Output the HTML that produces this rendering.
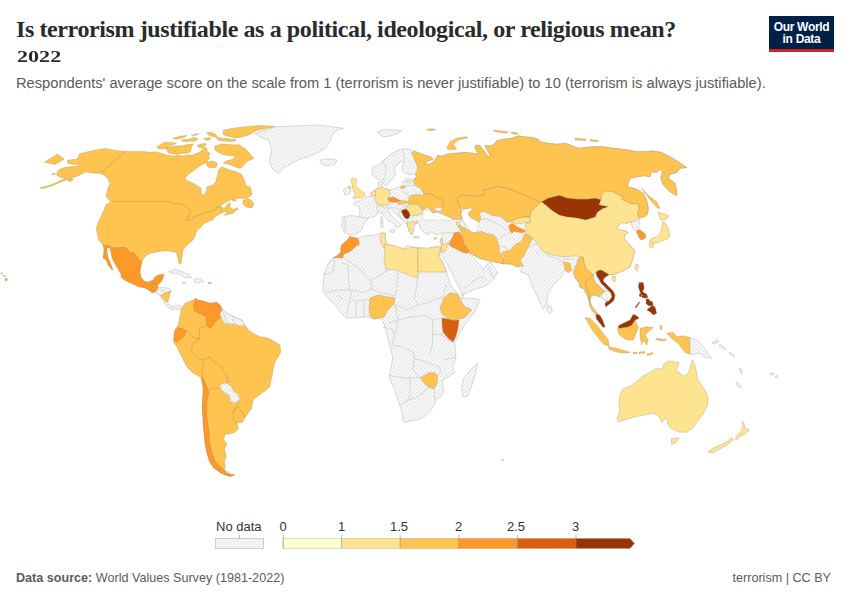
<!DOCTYPE html>
<html><head><meta charset="utf-8">
<style>
html,body{margin:0;padding:0;background:#fff;}
body{width:850px;height:600px;position:relative;overflow:hidden;font-family:"Liberation Sans",sans-serif;}
.t{position:absolute;white-space:nowrap;}
#title{left:16px;top:15.6px;font-family:"Liberation Serif",serif;font-weight:bold;font-size:24px;color:#2b2b2b;letter-spacing:-0.4px;}
#year{left:16.5px;top:46.5px;font-family:"Liberation Serif",serif;font-weight:bold;font-size:17px;color:#2b2b2b;transform-origin:0 0;transform:scaleX(1.3);}
#sub{left:16px;top:74.5px;font-size:14.7px;color:#5b5b5b;}
#logo{position:absolute;left:769px;top:16px;width:65px;height:36px;background:#002147;}
#logo .bar{position:absolute;left:0;bottom:0;width:65px;height:3px;background:#ce261e;}
#logo .lt{position:absolute;left:0;width:65px;text-align:center;color:#fff;font-weight:bold;font-size:12px;letter-spacing:-0.3px;}
#map{position:absolute;left:0;top:0;}
.nd{fill:url(#hatch);stroke:#c8c8c8;stroke-width:0.7;}
.cc{stroke:#7a6a55;stroke-width:0.35;stroke-opacity:0.7;}
.wt{fill:#fff;stroke:#c6c6c6;stroke-width:0.5;}
.nb{fill:none;stroke:#cccccc;stroke-width:0.7;}
.bl{fill:none;stroke:#7a6a55;stroke-width:0.4;stroke-opacity:0.7;}
.lg{position:absolute;font-size:13px;color:#333;}
#src{left:16px;top:570.5px;font-size:12.6px;color:#5b5b5b;}
#lic{left:732.5px;top:570.5px;font-size:12.6px;color:#5b5b5b;}
</style></head><body>
<div class="t" id="title">Is terrorism justifiable as a political, ideological, or religious mean?</div>
<div class="t" id="year">2022</div>
<div class="t" id="sub">Respondents' average score on the scale from 1 (terrorism is never justifiable) to 10 (terrorism is always justifiable).</div>
<div id="logo"><div class="lt" style="top:4px">Our World</div><div class="lt" style="top:15.8px">in Data</div><div class="bar"></div></div>
<svg id="map" width="850" height="600" viewBox="0 0 850 600">
<defs><pattern id="hatch" patternUnits="userSpaceOnUse" width="2.83" height="2.83" patternTransform="rotate(45)"><rect width="2.83" height="2.83" fill="#fff"/><line x1="0.6" y1="0" x2="0.6" y2="2.83" stroke="#e5e5e5" stroke-width="1.6"/></pattern></defs>
<polygon fill="#fec44f" class="cc" points="40.5,187.7 50.5,185.1 65.8,178.2 61.2,177.5 57.4,175.9 56.6,172.9 58.9,169.8 64.2,167.5 71.9,166.5 77.0,166.2 79.0,165.2 77.2,164.5 72.0,164.2 67.3,162.9 67.5,160.2 76.5,159.1 79.5,156.1 78.8,154.1 85.7,152.2 97.9,149.5 105.5,148.4 116.2,150.4 125.4,151.5 142.9,151.4 150.0,152.3 155.6,151.8 161.3,153.2 166.0,155.1 173.5,156.1 178.2,155.1 182.9,156.1 187.6,155.1 192.4,155.1 197.1,153.2 199.9,152.3 203.6,148.5 206.5,147.6 207.4,151.4 210.2,153.2 208.4,156.1 209.7,157.8 206.6,162.4 200.5,165.4 194.4,170.0 188.2,174.6 185.2,178.0 186.3,180.4 191.7,182.5 197.1,185.8 200.9,187.9 201.4,193.4 203.6,195.5 206.3,191.2 206.9,186.9 211.2,185.8 215.5,182.5 216.6,178.2 217.7,173.8 218.8,169.5 221.9,167.0 229.5,170.0 235.7,171.5 241.8,174.6 243.3,178.0 244.8,181.4 245.9,185.8 250.0,187.0 251.0,189.1 252.0,194.4 246.7,198.7 240.0,198.0 231.5,199.4 225.9,202.2 221.2,205.1 216.5,207.4 221.2,206.5 222.1,208.8 224.0,208.8 227.8,204.1 230.6,202.2 229.6,206.9 233.4,209.8 237.2,207.4 238.1,208.8 232.5,213.5 225.9,214.9 224.0,215.4 227.8,211.6 224.0,212.1 220.2,213.5 216.5,215.9 213.6,218.2 212.7,220.1 207.1,222.0 203.3,223.9 200.5,227.6 197.6,229.5 196.2,232.4 194.8,237.1 192.9,240.0 188.5,244.0 183.2,249.3 182.1,255.6 181.1,264.1 178.9,263.1 176.8,253.5 175.0,252.0 169.0,251.0 163.0,251.0 157.0,252.0 151.0,253.0 147.0,255.0 143.0,259.0 142.0,262.0 139.0,260.0 136.0,255.0 133.0,252.0 130.0,253.0 128.0,250.0 125.0,247.5 121.0,247.5 112.0,248.0 110.0,246.0 103.0,245.0 98.5,239.8 96.4,229.2 97.4,223.9 102.7,213.3 105.9,204.8 111.2,201.6 108.0,199.0 106.0,196.0 108.0,188.0 110.0,184.0 108.0,179.0 104.0,175.0 101.0,173.5 92.0,172.9 85.7,172.1 78.0,175.9 65.8,180.1 50.5,186.5 41.0,188.8"/>
<polygon fill="#fec44f" class="cc" points="214.2,146.3 221.9,144.0 231.1,144.8 238.7,144.8 244.8,148.6 247.9,151.6 254.0,158.5 247.9,160.8 244.8,163.9 240.2,168.5 235.7,167.0 228.0,163.9 223.4,163.1 226.5,160.8 232.6,159.3 235.7,156.2 229.5,155.5 223.4,154.7 218.8,152.4 215.0,150.1"/>
<polygon fill="#fec44f" class="cc" points="223.4,130.2 234.1,128.0 247.9,126.4 260.1,125.6 275.4,126.4 269.3,127.9 257.1,130.2 249.4,134.8 241.8,137.1 235.7,137.9 229.5,136.4 223.4,134.8"/>
<polygon fill="#fec44f" class="cc" points="206.5,132.5 212.1,132.5 215.9,134.4 217.8,137.2 221.5,138.2 227.2,138.6 230.0,139.1 235.7,139.4 235.7,140.9 230.0,141.5 221.5,141.0 217.8,140.1 215.9,137.2 209.3,135.4"/>
<polygon fill="#fec44f" class="cc" points="156.6,147.1 164.1,142.4 173.5,142.4 176.4,143.8 168.8,145.7 166.9,148.5 159.4,149.0"/>
<polygon fill="#fec44f" class="cc" points="166.0,147.6 173.5,146.2 181.1,145.7 189.5,144.3 193.3,143.8 191.4,147.6 190.5,151.4 187.6,153.2 182.0,153.2 176.4,154.2 168.8,153.2 166.9,150.4"/>
<polygon fill="#fec44f" class="cc" points="173.1,138.2 180.1,136.3 186.7,135.4 184.8,137.2 178.2,139.1 173.5,139.1"/>
<polygon fill="#fec44f" class="cc" points="181.1,140.1 189.5,139.1 194.2,137.2 198.0,139.1 195.2,141.0 187.6,141.5 182.9,141.5"/>
<polygon fill="#fec44f" class="cc" points="191.4,134.9 198.9,133.5 197.1,134.9 193.0,135.6"/>
<polygon fill="#fec44f" class="cc" points="197.1,145.2 202.7,143.4 206.5,143.8 203.6,148.1 198.9,147.6"/>
<polygon fill="#fec44f" class="cc" points="203.6,138.6 210.2,137.2 211.2,139.1 206.5,140.5"/>
<polygon fill="#fec44f" class="cc" points="206.6,162.4 212.0,161.0 217.3,163.0 216.0,167.5 210.0,168.0 207.0,166.0"/>
<polygon fill="#fec44f" class="cc" points="232.5,199.4 236.2,199.8 235.5,201.3 232.5,200.8"/>
<polygon fill="#fec44f" class="cc" points="243.0,200.0 250.0,199.0 254.0,204.0 252.0,208.0 246.0,207.0 243.0,204.0"/>
<polygon fill="#fec44f" class="cc" points="44.4,162.2 57.4,154.1 64.2,159.1 55.1,164.5"/>
<polygon fill="#fec44f" class="cc" points="52.0,173.4 55.0,173.2 55.3,174.5 52.3,174.8"/>
<polygon fill="#fec44f" class="cc" points="67.5,180.0 71.0,178.8 73.4,179.5 70.0,182.0"/>
<polygon fill="#fe9929" class="cc" points="103.0,245.0 110.0,246.0 112.0,248.0 121.0,247.5 125.0,247.5 128.0,250.0 130.0,253.0 133.0,252.0 136.0,255.0 139.0,260.0 142.0,262.0 141.0,266.0 140.0,272.0 141.0,277.0 144.0,281.0 148.0,282.0 153.0,280.0 155.0,277.0 158.0,275.0 164.0,274.0 163.0,278.0 161.0,282.0 159.0,284.0 158.0,284.0 156.0,283.0 155.0,284.0 151.0,284.0 152.0,286.0 153.0,287.0 151.0,288.0 150.0,291.0 145.0,288.0 139.0,287.0 133.0,284.0 128.0,282.0 123.0,279.0 121.0,277.0 121.0,274.0 118.0,269.0 115.0,264.0 112.0,258.0 111.0,253.0 110.0,248.0 107.0,248.0 107.0,252.0 108.0,257.0 110.0,262.0 112.0,267.0 113.0,270.0 111.0,269.0 108.0,265.0 106.0,260.0 103.0,258.0 104.0,250.0"/>
<polygon fill="#fe9929" class="cc" points="151.0,284.0 155.0,284.0 156.0,283.0 158.0,284.0 158.0,289.0 155.0,292.0 152.0,293.0 150.0,291.0 151.0,288.0 153.0,287.0 152.0,286.0"/>
<polygon class="nd" points="157.6,289.4 158.2,288.2 160.0,287.5 166.0,287.8 170.6,289.5 170.6,291.2 160.6,295.3 157.6,294.5 155.3,292.9"/>
<polygon fill="#fec44f" class="cc" points="160.6,295.3 170.6,291.2 168.8,298.8 167.6,302.4 164.1,300.6 161.2,297.6"/>
<polygon class="nd" points="164.1,300.6 167.6,302.4 170.0,305.0 173.0,307.0 176.0,305.5 179.0,305.0 181.7,307.5 181.0,309.5 178.0,310.0 176.0,308.5 173.0,310.0 170.0,309.0 167.0,306.0 164.5,303.0"/>
<polygon class="nd" points="168.8,271.8 175.3,269.4 182.4,271.8 189.4,275.3 191.8,277.6 184.7,277.6 178.8,274.1 171.8,272.9"/>
<polygon class="nd" points="194.1,278.8 201.2,278.8 204.1,281.8 197.6,282.9 194.1,281.8"/>
<polygon class="nd" points="182.5,282.0 185.5,282.0 185.5,283.5 182.5,283.3"/>
<polygon fill="#fec44f" class="cc" points="208.0,282.2 211.2,282.4 211.2,283.4 208.0,283.3"/>
<polygon fill="#fec44f" class="cc" points="181.7,308.3 185.0,303.3 193.3,300.0 195.8,298.3 197.5,300.0 201.7,300.8 210.0,303.3 216.7,302.5 220.0,305.0 222.5,310.0 230.0,315.0 241.7,320.0 245.0,325.0 248.3,330.0 253.3,333.3 260.0,336.7 268.3,338.3 275.0,341.7 280.0,345.0 280.8,351.7 278.3,356.7 275.0,361.7 273.3,368.3 272.0,376.7 271.6,377.3 269.8,386.5 266.1,390.2 258.8,395.6 253.3,399.3 251.5,408.5 245.0,417.6 242.3,422.2 236.8,423.1 238.6,428.6 235.0,432.3 228.6,434.1 225.3,434.3 223.5,439.8 227.1,443.5 224.4,449.0 226.2,456.3 224.4,461.8 225.3,467.4 224.4,470.1 231.7,474.7 234.5,474.7 229.9,476.5 220.7,472.9 213.4,467.4 209.7,461.8 206.9,452.7 205.1,443.5 203.3,425.1 202.3,406.7 203.3,388.4 201.4,378.3 200.0,376.7 193.3,373.3 186.7,366.7 181.7,356.7 176.7,346.7 173.3,341.7 174.2,335.0 175.8,328.3 178.3,325.0 180.0,316.7"/>
<polygon fill="#fe9929" class="cc" points="195.8,298.3 197.5,300.0 201.7,300.8 210.0,303.3 216.7,302.5 220.0,305.0 222.4,309.4 220.0,314.1 221.2,317.6 215.3,321.2 212.9,325.9 209.4,328.2 206.5,325.3 205.9,316.5 201.2,314.1 194.1,310.6 193.5,304.7"/>
<polygon class="nd" points="222.4,309.4 230.0,315.0 241.7,320.0 245.0,325.0 241.0,326.0 235.0,324.0 229.0,324.0 224.0,323.0 221.2,317.6 220.0,314.1"/>
<polygon fill="#fe9929" class="cc" points="175.0,330.0 179.2,327.5 186.7,330.8 184.2,335.8 180.0,340.0 176.7,342.5 174.2,340.0 174.2,333.3"/>
<polygon fill="#fe9929" class="cc" points="201.4,378.3 203.3,378.3 208.8,392.0 206.9,401.2 206.9,415.9 208.8,430.6 209.7,443.5 211.5,450.8 214.3,460.0 218.9,465.5 224.4,470.1 226.2,473.8 231.7,474.7 234.5,474.7 229.9,476.5 220.7,472.9 213.4,467.4 209.7,461.8 206.9,452.7 205.1,443.5 203.3,425.1 202.3,406.7 203.3,388.4"/>
<polygon class="nd" points="220.3,384.7 225.8,382.8 231.3,386.5 233.1,391.1 238.6,394.7 239.5,400.2 235.0,403.0 230.4,401.1 229.5,395.6 224.0,392.0 220.3,388.3"/>
<polygon class="nd" points="371.8,169.8 372.5,167.5 377.0,165.3 382.3,161.5 387.5,157.0 392.0,153.3 397.3,150.6 402.5,149.1 407.8,148.8 411.5,149.9 413.8,151.0 421.9,154.1 431.8,157.6 433.2,159.1 427.5,161.2 424.7,164.0 430.4,164.0 436.0,158.4 437.4,155.5 441.7,156.2 447.3,154.1 452.9,153.4 465.0,152.5 473.3,153.3 478.3,154.2 475.0,147.5 475.8,145.0 480.0,145.8 483.3,150.0 488.3,156.7 490.0,155.0 486.7,149.2 485.0,145.8 491.7,145.8 495.0,143.3 496.7,140.8 503.3,139.2 511.7,138.3 518.3,135.8 523.3,136.7 531.7,137.5 538.3,139.2 540.0,141.7 548.3,143.3 556.7,144.2 565.0,143.3 570.0,145.0 578.3,148.3 591.7,146.7 603.3,146.7 613.3,148.3 628.3,150.0 636.7,151.7 646.7,151.7 651.7,150.8 661.7,152.5 670.0,156.7 678.3,161.7 686.7,167.5 680.0,168.3 676.7,172.5 670.0,174.2 668.3,178.3 675.0,183.3 676.7,190.0 676.7,195.8 670.0,191.7 663.3,185.0 660.8,178.3 662.5,171.7 660.0,169.2 656.7,172.5 651.7,171.7 650.0,176.7 643.3,175.8 630.0,178.3 627.5,186.7 636.7,189.2 643.3,193.3 646.7,200.0 648.3,208.3 647.5,214.2 645.0,216.7 640.8,217.5 639.6,220.0 639.2,224.2 638.3,229.2 642.5,231.7 645.0,234.2 645.8,237.5 643.3,239.2 640.8,239.6 639.2,237.5 638.3,235.0 636.7,232.5 636.7,230.8 634.2,230.0 632.5,227.5 631.7,225.0 630.8,221.5 626.7,223.3 622.5,222.5 618.3,225.0 616.7,228.3 620.0,230.0 625.0,230.8 628.3,232.5 625.0,235.0 624.2,238.3 626.7,241.7 630.0,245.0 632.5,248.3 634.8,250.9 632.9,258.5 630.0,267.0 625.0,270.0 620.0,272.0 615.0,274.0 612.0,275.0 609.0,274.5 607.0,276.0 604.0,278.0 603.0,281.0 606.0,284.0 610.0,288.0 613.0,291.0 615.0,295.0 614.0,300.0 611.0,303.0 608.0,305.0 606.0,307.0 605.0,304.0 606.0,302.0 609.0,301.0 605.0,300.0 602.0,298.0 599.0,297.0 596.0,295.0 593.0,295.0 591.0,296.0 590.0,300.0 591.0,305.0 594.0,309.0 597.0,313.0 600.0,315.5 602.5,320.0 605.0,326.7 603.3,327.5 600.0,323.3 596.7,319.2 595.0,315.0 592.0,311.0 590.0,306.0 589.0,301.0 588.0,297.0 586.0,293.0 584.0,289.0 580.0,287.0 579.0,283.0 576.0,279.0 574.0,275.0 573.3,271.7 571.7,270.0 568.3,272.5 565.0,270.0 563.3,273.3 560.0,278.3 553.3,285.0 548.3,293.3 546.7,303.3 543.3,309.2 541.7,306.7 536.7,295.0 531.7,285.0 528.3,275.0 520.0,271.7 523.3,265.8 516.7,266.7 511.7,264.2 504.0,264.0 498.0,262.7 491.3,261.3 486.0,260.0 480.7,258.7 475.3,256.0 470.0,253.3 470.0,254.7 474.0,258.7 479.3,264.0 483.3,269.3 487.3,264.0 490.0,261.3 492.7,265.3 496.7,270.7 498.0,272.0 494.0,278.7 488.7,284.0 483.3,286.7 475.3,289.3 468.7,292.0 463.3,294.7 462.5,296.3 461.4,294.2 460.3,289.8 458.2,285.5 454.9,280.1 451.7,272.5 448.4,266.0 444.1,258.4 440.8,254.1 441.2,250.0 441.5,246.5 441.0,239.0 442.5,234.0 441.7,233.1 436.0,234.8 431.8,231.7 427.6,234.8 424.7,233.1 420.5,228.9 419.1,223.2 418.1,222.6 414.8,224.6 413.9,230.5 411.8,234.8 409.2,231.7 407.8,227.5 406.4,223.2 404.5,222.8 402.3,219.8 400.0,217.5 396.3,214.5 392.5,210.8 389.5,207.8 388.0,209.0 389.5,213.0 391.8,216.0 394.8,219.0 397.8,221.3 400.0,223.5 401.5,225.0 400.0,226.5 397.5,227.0 396.3,228.5 394.8,225.0 391.0,221.3 389.2,221.7 385.0,216.7 381.7,213.3 378.3,212.5 377.5,214.2 374.2,216.7 370.8,217.5 368.3,218.3 365.8,221.7 363.3,225.0 362.5,228.3 360.0,231.7 355.8,234.2 351.7,235.0 347.5,234.2 345.0,232.5 342.5,229.2 341.7,225.0 342.9,221.7 342.1,217.5 347.5,215.8 353.3,215.8 359.2,216.7 360.0,210.8 359.2,206.7 353.3,204.2 355.0,201.7 359.2,200.8 363.3,199.2 366.7,196.7 369.5,196.5 371.8,195.8 370.4,193.6 373.9,190.8 375.3,189.4 378.5,188.5 381.5,188.3 385.2,188.7 389.4,190.1 395.0,188.5 400.7,186.6 402.5,184.0 403.0,181.0 408.0,180.3 413.0,180.3 416.8,176.0 413.0,174.3 408.5,174.3 405.5,173.5 402.5,170.5 401.8,167.5 403.3,164.5 404.0,162.6 402.5,161.5 400.3,162.3 398.0,163.8 395.0,167.5 394.3,170.5 395.8,172.8 395.0,175.0 392.8,179.5 389.8,181.0 387.5,184.8 385.3,185.5 383.5,183.5 382.5,180.5 379.3,179.5 375.5,178.0 372.5,175.0"/>
<polygon class="wt" points="422.4,215.7 422.9,212.5 424.5,209.9 428.0,210.5 430.8,211.0 432.9,212.5 437.2,212.5 443.5,214.6 448.8,216.8 454.1,219.4 449.0,220.0 439.3,219.9 428.7,220.0 422.4,219.9"/>
<polygon class="wt" points="461.6,211.5 465.0,209.0 470.7,207.8 472.4,209.8 469.1,212.3 468.2,214.8 471.5,218.1 476.5,220.5 478.9,222.2 478.1,226.3 477.3,229.6 475.7,232.9 471.5,232.1 468.2,228.8 465.8,225.5 463.3,221.4 460.8,214.8"/>
<polygon class="nd" points="378.5,182.0 381.0,181.5 382.5,183.5 382.0,186.5 381.5,188.3 378.8,188.3 378.5,185.0"/>
<polygon fill="#fec44f" class="cc" points="413.8,151.0 421.9,154.1 431.8,157.6 433.2,159.1 427.5,161.2 424.7,164.0 430.4,164.0 436.0,158.4 437.4,155.5 441.7,156.2 447.3,154.1 452.9,153.4 465.0,152.5 473.3,153.3 478.3,154.2 475.0,147.5 475.8,145.0 480.0,145.8 483.3,150.0 488.3,156.7 490.0,155.0 486.7,149.2 485.0,145.8 491.7,145.8 495.0,143.3 496.7,140.8 503.3,139.2 511.7,138.3 518.3,135.8 523.3,136.7 531.7,137.5 538.3,139.2 540.0,141.7 548.3,143.3 556.7,144.2 565.0,143.3 570.0,145.0 578.3,148.3 591.7,146.7 603.3,146.7 613.3,148.3 628.3,150.0 636.7,151.7 646.7,151.7 651.7,150.8 661.7,152.5 670.0,156.7 678.3,161.7 686.7,167.5 680.0,168.3 676.7,172.5 670.0,174.2 668.3,178.3 675.0,183.3 676.7,190.0 676.7,195.8 670.0,191.7 663.3,185.0 660.8,178.3 662.5,171.7 660.0,169.2 656.7,172.5 651.7,171.7 650.0,176.7 643.3,175.8 630.0,178.3 627.5,186.7 636.7,189.2 643.3,193.3 646.7,200.0 648.3,208.3 647.5,214.2 645.0,216.7 640.8,217.5 638.3,216.7 637.5,212.5 639.2,208.3 637.5,203.3 631.7,204.2 626.7,201.7 622.5,200.0 621.6,196.4 612.2,191.6 604.7,191.6 601.9,194.5 600.9,200.1 595.3,198.2 587.8,199.2 576.5,199.2 567.1,198.2 559.5,195.4 548.2,198.2 541.6,202.0 540.1,202.9 537.0,200.6 529.0,197.0 522.0,193.8 516.0,191.5 510.0,189.2 497.0,186.4 488.1,189.2 483.4,190.3 484.0,195.0 473.0,196.4 461.7,195.0 457.5,198.4 458.3,204.5 460.6,207.5 461.6,211.5 460.8,214.8 462.3,218.5 462.6,218.9 458.0,219.5 454.1,219.4 448.8,216.8 443.5,214.6 440.0,212.8 437.5,211.8 438.0,211.0 441.0,210.5 441.5,207.8 441.5,207.5 443.5,205.1 443.5,200.9 439.3,198.8 435.1,196.6 430.8,194.0 426.6,193.5 423.3,193.6 420.5,188.0 414.8,185.2 413.5,181.0 416.8,176.0 415.3,173.5 417.5,169.0 416.8,164.5 414.5,160.0 413.0,155.5 411.1,153.3 413.8,151.0"/>
<polygon fill="#fec44f" class="cc" points="446.7,148.3 450.0,141.7 456.7,138.3 466.7,136.7 467.5,138.0 458.3,140.0 453.3,144.2 456.7,149.2 450.0,150.0"/>
<polygon fill="#fec44f" class="cc" points="493.3,130.0 508.3,131.7 506.7,133.3 495.0,131.7"/>
<polygon fill="#fec44f" class="cc" points="511.5,132.0 518.0,133.0 517.0,134.5 511.5,133.5"/>
<polygon fill="#fec44f" class="cc" points="575.0,138.3 586.0,139.0 586.0,140.5 575.0,140.0"/>
<polygon fill="#fec44f" class="cc" points="590.0,139.5 598.3,140.5 598.0,141.7 590.0,141.0"/>
<polygon fill="#fec44f" class="cc" points="641.7,188.3 650.0,196.7 656.7,201.7 660.0,208.3 657.5,208.3 651.7,201.7 645.0,193.3"/>
<polygon fill="#fec44f" class="cc" points="460.6,207.5 458.3,204.5 457.5,198.4 461.7,195.0 473.0,196.4 484.0,195.0 483.4,190.3 488.1,189.2 497.0,186.4 510.0,189.2 516.0,191.5 522.0,193.8 529.0,197.0 537.0,200.6 540.1,202.9 535.5,207.5 531.0,212.1 530.0,217.2 525.9,216.8 522.6,217.2 519.3,218.1 516.0,218.9 512.7,220.5 509.4,222.2 506.1,221.4 503.7,218.9 499.5,216.4 493.0,215.6 487.2,213.1 483.9,211.5 479.8,212.3 480.6,219.7 478.9,222.2 476.5,220.5 471.5,218.1 468.2,214.8 469.1,212.3 472.4,209.8 470.7,207.8 465.0,209.0 462.0,208.5"/>
<polygon fill="#fee391" class="cc" points="512.7,220.5 516.0,218.9 522.6,217.2 530.0,217.2 530.5,222.2 522.6,223.0 517.7,223.8 514.4,223.0 511.9,222.2"/>
<polygon fill="#fe9929" class="cc" points="508.6,226.3 511.1,223.8 513.5,223.8 516.0,226.3 519.3,228.0 523.4,229.6 525.1,231.2 522.6,232.9 517.7,232.1 514.4,231.2 511.9,232.9 510.2,231.2 509.4,228.8"/>
<polygon fill="#993404" class="cc" points="541.6,202.0 548.2,198.2 559.5,195.4 567.1,198.2 576.5,199.2 587.8,199.2 595.3,198.2 600.9,200.1 599.1,204.8 608.5,206.7 602.8,208.6 597.2,212.4 595.3,217.1 585.9,219.9 576.5,218.0 567.1,217.1 559.5,215.2 552.0,210.5 546.4,205.8"/>
<polygon fill="#fee391" class="cc" points="540.1,202.9 541.6,202.0 546.4,205.8 552.0,210.5 559.5,215.2 567.1,217.1 576.5,218.0 585.9,219.9 595.3,217.1 597.2,212.4 602.8,208.6 608.5,206.7 599.1,204.8 600.9,200.1 601.9,194.5 604.7,191.6 612.2,191.6 621.6,196.4 622.5,200.0 626.7,201.7 631.7,204.2 637.5,203.3 639.2,208.3 637.5,212.5 638.3,216.7 640.0,218.0 636.0,220.5 631.5,222.0 630.8,221.5 626.7,223.3 622.5,222.5 618.3,225.0 616.7,228.3 620.0,230.0 625.0,230.8 628.3,232.5 625.0,235.0 624.2,238.3 626.7,241.7 630.0,245.0 632.5,248.3 634.8,250.9 632.9,258.5 630.0,267.0 625.0,270.0 620.0,272.0 615.0,274.0 612.0,275.0 609.0,274.5 606.0,273.0 603.0,271.0 600.0,270.0 596.0,272.0 593.0,275.0 591.0,273.0 586.0,269.0 584.0,263.0 583.0,257.0 580.0,257.0 576.5,255.6 568.9,256.6 561.4,256.6 552.0,254.7 542.6,250.9 537.0,243.0 533.0,239.0 529.4,236.0 524.8,232.0 525.1,231.2 526.0,223.5 530.5,222.2 530.0,217.2 531.0,212.1 535.5,207.5"/>
<polygon fill="#fee391" class="cc" points="612.0,276.5 615.5,276.5 616.0,280.0 614.0,282.0 612.0,280.0"/>
<polygon fill="#fee391" class="cc" points="636.0,264.0 638.6,265.0 637.5,271.6 634.8,269.0"/>
<polygon fill="#fe9929" class="cc" points="636.7,230.8 639.2,229.6 642.5,231.7 645.0,234.2 645.8,237.5 643.3,239.2 640.8,239.6 639.2,237.5 638.3,235.0 636.7,232.5"/>
<polygon fill="#fee391" class="cc" points="662.5,221.7 665.0,222.5 667.5,226.7 669.2,231.7 670.0,236.0 667.5,239.2 661.7,240.8 658.3,242.5 654.2,243.3 651.0,242.0 649.2,241.7 651.7,238.3 656.7,236.7 660.0,233.3 661.7,227.5"/>
<polygon fill="#fee391" class="cc" points="658.3,211.7 661.7,213.3 666.7,215.0 669.2,215.8 666.7,219.2 663.3,220.0 660.8,220.0 659.2,216.7"/>
<polygon fill="#fee391" class="cc" points="649.2,243.0 653.0,243.5 654.2,246.0 651.5,248.3 649.5,247.0"/>
<polygon fill="#fec44f" class="cc" points="408.6,199.8 410.7,195.6 417.1,194.5 422.4,195.1 426.6,193.5 430.8,194.0 435.1,196.6 439.3,198.8 443.5,200.9 443.5,205.1 441.5,207.5 438.0,207.6 435.5,208.0 434.5,209.5 436.5,210.5 437.5,211.5 435.0,212.5 433.0,213.0 431.5,211.5 430.8,210.4 429.8,208.3 426.6,207.8 424.5,209.4 422.4,209.9 420.2,206.2 418.1,204.1 414.9,204.1 410.7,204.1 408.1,203.5"/>
<polygon class="wt" points="435.5,208.0 438.0,207.6 441.5,207.8 441.0,210.5 438.0,211.0 436.5,210.5 434.5,209.5"/>
<polygon fill="#fee391" class="cc" points="375.3,189.4 379.5,188.0 382.4,187.3 385.2,188.7 389.4,190.1 390.1,193.6 388.7,196.5 388.0,199.3 389.4,202.8 386.6,204.9 382.4,205.2 378.1,204.9 376.0,202.1 375.3,196.5 373.9,193.6"/>
<polygon fill="#fee391" class="cc" points="370.4,193.6 373.9,190.8 376.0,191.5 375.3,195.8 371.8,195.8"/>
<polygon fill="#fe9929" class="cc" points="387.4,198.8 390.6,197.2 393.8,197.2 396.9,198.8 400.1,200.4 396.9,201.9 392.7,202.5 389.5,201.4"/>
<polygon fill="#fec44f" class="cc" points="396.9,201.9 400.1,200.4 404.4,200.9 408.1,201.4 406.5,203.5 402.2,204.1 398.5,204.6"/>
<polygon fill="#fec44f" class="cc" points="400.7,186.6 404.2,185.8 405.5,187.8 401.0,188.3"/>
<polygon fill="#fee391" class="cc" points="406.5,205.6 410.7,204.6 414.9,204.6 418.1,204.6 420.8,207.2 421.8,211.5 422.4,214.1 419.2,214.6 413.9,215.7 409.6,214.6 407.5,212.0 405.9,208.8"/>
<polygon fill="#993404" class="cc" points="402.0,210.0 406.0,209.0 409.0,212.0 410.0,216.0 408.0,219.0 405.0,218.0 403.0,215.0 401.6,212.0"/>
<polygon fill="#fee391" class="cc" points="406.5,223.1 411.8,222.1 417.1,221.0 418.1,222.6 413.9,224.2 411.8,227.4 413.9,230.5 411.8,234.8 409.6,231.6 408.1,227.4"/>
<polygon fill="#fee391" class="cc" points="413.4,236.6 419.1,236.8 418.5,238.1 413.8,237.8"/>
<polygon fill="#fee391" class="cc" points="433.5,238.0 437.3,237.6 436.5,239.3 434.0,239.2"/>
<polygon fill="#fee391" class="cc" points="456.2,222.3 459.0,222.1 460.5,225.0 458.5,226.3 456.5,225.0"/>
<polygon class="nd" points="459.0,222.1 462.6,220.5 463.3,221.4 465.8,225.5 464.5,227.5 462.0,228.0 460.5,225.0"/>
<polygon fill="#fe9929" class="cc" points="454.0,232.7 459.3,232.0 462.7,237.3 463.3,242.7 467.3,248.0 470.0,252.0 466.0,253.3 462.0,252.0 456.7,249.3 451.3,246.7 448.7,244.0 450.0,241.3 452.7,237.3"/>
<polygon fill="#fec44f" class="cc" points="458.0,226.7 461.0,226.0 465.0,228.5 468.2,229.5 471.5,232.1 475.7,232.9 481.4,231.2 487.2,233.7 493.0,234.5 496.2,237.8 497.0,240.0 499.3,246.7 499.3,252.0 502.0,254.7 504.0,260.0 504.0,264.0 498.0,262.7 491.3,261.3 486.0,260.0 480.7,258.7 475.3,256.0 470.0,253.3 467.3,248.0 463.3,242.7 462.7,237.3 460.7,230.7"/>
<polygon fill="#fee391" class="cc" points="441.3,245.0 444.0,244.0 446.5,243.5 448.5,244.5 446.5,248.0 445.0,252.0 442.0,252.5 441.5,249.0"/>
<polygon fill="#fee391" class="cc" points="440.3,239.0 442.5,238.8 442.7,244.0 441.3,245.0 440.2,242.0"/>
<polygon fill="#fec44f" class="cc" points="501.7,263.3 511.7,264.2 516.7,266.7 523.3,265.8 520.0,260.0 523.3,256.7 528.3,246.7 532.5,238.1 529.4,236.0 524.8,233.5 521.8,241.2 515.7,244.2 509.5,250.4 501.9,251.9 505.0,258.0 502.7,262.6"/>
<polygon fill="#fec44f" class="cc" points="563.3,261.7 570.0,263.3 571.7,270.0 568.3,272.5 565.0,270.0 564.2,265.8"/>
<polygon fill="#fec44f" class="cc" points="580.0,257.0 583.0,257.0 584.0,263.0 586.0,269.0 591.0,273.0 593.0,275.0 590.0,278.0 586.0,282.0 586.0,286.0 588.0,290.0 589.0,295.0 589.0,301.0 588.0,297.0 586.0,293.0 584.0,289.0 580.0,287.0 579.0,283.0 576.0,279.0 574.0,275.0 574.0,271.0 575.0,267.0 577.0,263.0 578.0,259.0"/>
<polygon class="nd" points="593.0,275.0 596.0,272.0 597.0,276.0 599.0,279.0 601.0,283.0 604.0,286.0 606.0,289.0 604.0,291.0 601.0,288.0 598.0,285.0 595.0,283.0 594.0,280.0"/>
<polygon class="nd" points="600.0,294.0 604.0,292.0 608.0,291.0 611.0,293.0 612.0,297.0 609.0,301.0 605.0,300.0 602.0,298.0"/>
<polygon fill="#fec44f" class="cc" points="586.0,282.0 590.0,278.0 593.0,275.0 594.0,280.0 595.0,283.0 598.0,285.0 601.0,288.0 604.0,291.0 602.0,294.0 600.0,295.0 599.0,297.0 596.0,295.0 593.0,295.0 591.0,296.0 590.0,300.0 591.0,305.0 594.0,309.0 597.0,313.0 600.0,315.5 598.0,315.0 595.0,313.0 592.0,310.0 590.0,306.0 589.0,301.0 589.0,295.0 588.0,290.0 586.0,286.0"/>
<polygon fill="#993404" class="cc" points="596.0,272.0 600.0,270.0 603.0,271.0 606.0,273.0 609.0,274.5 607.0,276.0 604.0,278.0 603.0,281.0 606.0,284.0 610.0,288.0 613.0,291.0 615.0,295.0 614.0,300.0 611.0,303.0 608.0,305.0 606.0,307.0 605.0,304.0 606.0,302.0 609.0,301.0 612.0,297.0 611.0,293.0 608.0,290.0 604.0,286.0 601.0,283.0 599.0,279.0 597.0,276.0"/>
<polygon fill="#993404" class="cc" points="595.8,314.2 600.0,315.5 602.5,320.0 605.0,326.7 603.3,327.5 600.0,323.3 596.7,319.2"/>
<polygon fill="#fee391" class="cc" points="352.0,178.1 356.2,178.8 356.9,182.4 355.5,185.2 358.4,188.0 361.2,190.8 364.7,192.9 365.4,195.8 361.2,197.9 356.9,197.9 352.7,198.6 354.1,195.8 355.5,193.6 353.4,191.5 352.7,188.0 352.0,183.8 350.6,180.9"/>
<polygon class="nd" points="343.3,190.0 348.3,186.7 350.8,189.2 350.0,193.3 345.0,195.0"/>
<polygon fill="#fee391" class="cc" points="348.5,186.5 350.5,186.0 350.8,188.3 349.0,188.5"/>
<polygon class="nd" points="320.0,160.0 326.7,158.7 336.7,160.0 335.0,164.2 328.3,165.8 321.7,164.2"/>
<polygon class="nd" points="255.0,133.3 263.3,130.8 276.7,126.7 298.3,125.8 316.7,125.0 331.7,126.7 343.3,128.3 335.0,130.8 331.7,136.7 330.0,141.7 325.0,148.3 318.3,152.5 308.3,156.7 300.0,159.2 291.7,163.3 283.3,168.3 279.2,173.3 273.3,170.0 269.2,161.7 270.8,155.0 271.7,148.3 268.3,140.0 260.0,136.7"/>
<polygon class="nd" points="377.6,131.5 385.0,129.5 392.0,130.0 401.6,130.5 397.0,134.0 390.0,136.0 383.0,137.0 379.0,134.0"/>
<polygon fill="#fec44f" class="cc" points="426.4,129.2 431.0,128.8 436.2,129.3 432.0,130.6 428.0,130.4"/>
<polygon class="nd" points="547.5,305.0 550.5,306.0 552.5,311.0 550.0,314.2 547.0,311.0"/>
<polygon class="nd" points="333.7,257.7 337.0,255.7 339.7,253.7 341.0,251.7 340.7,248.3 341.7,245.0 343.7,243.0 346.3,241.0 348.3,239.0 349.7,236.3 351.7,237.3 354.3,237.7 357.7,238.3 364.0,236.0 372.0,235.5 380.9,233.1 385.2,233.1 385.2,238.8 386.6,243.0 389.4,244.4 396.5,247.2 402.1,249.4 407.8,245.8 412.0,247.0 417.7,247.2 427.5,248.6 436.0,246.8 440.5,247.0 440.0,252.0 438.7,256.2 441.9,260.6 446.2,270.3 447.3,274.7 449.0,280.1 450.6,285.5 453.8,289.8 458.2,294.2 460.3,297.4 464.0,298.0 468.0,298.5 472.0,298.8 476.0,298.5 480.2,299.8 474.3,312.7 465.0,324.3 458.0,336.0 454.5,343.0 455.7,350.0 455.7,359.3 452.2,366.3 454.7,372.4 447.6,377.1 441.8,380.6 442.9,385.3 443.5,391.2 440.6,397.1 435.9,399.4 434.7,404.1 431.2,410.0 425.3,415.9 419.4,419.4 412.4,420.6 405.3,422.4 402.9,420.6 402.4,414.7 400.6,407.6 398.2,400.6 394.7,390.0 391.2,381.8 389.4,375.9 390.3,370.0 391.5,366.3 392.7,357.0 390.3,347.7 388.0,338.3 385.7,329.0 383.3,322.0 380.0,318.0 374.0,319.0 366.0,317.0 354.0,318.0 346.0,318.0 342.0,314.0 336.0,306.0 328.0,298.0 323.0,292.0 323.0,286.0 324.0,274.0 328.0,264.0 331.0,260.0"/>
<polygon class="nd" points="389.5,230.0 394.8,229.5 394.0,232.5 390.0,232.0"/>
<polygon class="nd" points="380.5,217.0 382.5,216.8 382.8,221.5 381.0,221.5"/>
<polygon class="nd" points="380.8,222.5 383.0,222.5 383.0,227.5 381.0,227.5"/>
<polygon class="nd" points="477.8,362.8 475.5,373.3 472.0,385.0 467.3,396.7 462.7,396.7 461.5,387.3 463.8,378.0 469.7,371.0 474.3,366.3"/>
<polygon fill="#fe9929" class="cc" points="349.7,236.3 351.7,237.3 354.3,237.7 357.7,238.3 358.7,241.0 359.3,244.7 356.3,245.7 354.3,247.7 352.3,249.7 349.7,251.7 346.3,253.0 343.7,254.3 342.7,258.0 338.3,257.7 333.7,257.7 337.0,255.7 339.7,253.7 341.0,251.7 340.7,248.3 341.7,245.0 343.7,243.0 346.3,241.0 348.3,239.0"/>
<polygon fill="#fee391" class="cc" points="380.9,233.1 385.2,233.1 385.2,238.8 386.6,243.0 383.8,248.6 380.9,243.0 380.2,237.4"/>
<polygon fill="#fee391" class="cc" points="384.0,244.5 388.0,245.0 394.0,246.0 400.0,247.5 406.0,249.0 412.0,247.0 418.0,248.0 418.0,278.0 414.0,277.0 396.0,270.0 386.0,269.0 384.0,260.0 385.0,252.0"/>
<polygon fill="#fee391" class="cc" points="418.0,248.0 428.0,248.0 436.0,246.8 440.5,247.0 440.0,252.0 438.7,256.2 441.9,260.6 444.0,266.0 446.2,272.0 420.0,272.0 418.0,272.0"/>
<polygon fill="#fec44f" class="cc" points="370.0,298.0 378.0,295.0 388.0,297.0 395.0,298.0 394.0,304.0 388.0,310.0 384.0,317.0 380.0,318.0 374.0,319.0 370.0,316.0 369.0,308.0"/>
<polygon fill="#fec44f" class="cc" points="444.0,298.0 450.0,293.0 458.0,294.0 460.0,300.0 464.0,306.0 472.0,310.0 464.0,318.0 454.0,320.0 448.0,318.0 442.0,314.0 440.0,308.0"/>
<polygon fill="#d95f0e" class="cc" points="442.0,318.0 448.0,319.0 454.0,320.4 459.0,320.0 458.0,328.0 456.0,336.0 453.0,342.0 448.0,338.0 443.0,332.0 442.0,324.0"/>
<polygon fill="#fec44f" class="cc" points="420.6,378.2 428.8,372.4 434.1,372.9 437.6,375.3 437.1,382.9 434.1,388.8 428.8,387.6 425.3,384.1 421.8,380.6"/>
<polygon fill="#993404" class="cc" points="639.2,282.5 643.3,282.5 644.2,288.3 642.5,291.7 646.7,294.2 648.3,298.3 645.0,296.7 641.7,295.0 640.0,291.7 638.3,286.7"/>
<polygon fill="#993404" class="cc" points="646.7,300.0 652.5,301.7 653.3,305.8 648.3,305.8 645.8,303.3"/>
<polygon fill="#993404" class="cc" points="646.7,310.0 651.7,305.8 655.0,306.7 656.7,313.3 653.3,315.0 650.0,311.7"/>
<polygon fill="#993404" class="cc" points="635.0,307.5 639.2,301.7 639.8,302.5 636.0,308.0"/>
<polygon fill="#993404" class="cc" points="639.5,293.5 641.5,294.0 641.2,297.0 639.3,296.2"/>
<polygon fill="#993404" class="cc" points="641.7,295.5 646.7,296.5 645.5,298.3 642.0,297.5"/>
<polygon fill="#993404" class="cc" points="645.8,298.8 649.5,299.5 650.0,303.0 647.0,303.3"/>
<polygon fill="#fec44f" class="cc" points="617.5,327.5 623.3,327.5 628.3,326.7 631.7,325.0 635.0,320.0 638.3,327.5 636.7,331.7 633.3,340.0 626.7,340.0 621.7,336.7 618.3,333.3"/>
<polygon fill="#993404" class="cc" points="618.3,325.8 623.3,323.3 630.0,320.0 633.3,314.2 636.7,315.8 639.2,318.3 635.0,320.0 631.7,325.0 628.3,326.7 623.3,327.5 619.2,328.3"/>
<polygon fill="#fec44f" class="cc" points="640.0,328.3 646.7,326.7 653.3,327.5 648.3,331.7 645.0,335.0 648.3,340.0 646.7,345.0 643.3,340.0 641.7,345.0 640.0,336.7"/>
<polygon fill="#fec44f" class="cc" points="585.0,317.5 590.0,318.3 596.7,325.0 603.3,333.3 608.3,340.0 609.2,345.8 605.0,345.0 600.0,340.0 593.3,331.7 588.3,323.3"/>
<polygon fill="#fec44f" class="cc" points="608.3,346.7 616.7,348.3 625.0,350.8 630.0,352.5 623.3,353.3 615.0,351.7 609.2,349.2"/>
<polygon fill="#fec44f" class="cc" points="633.0,352.5 637.0,352.0 637.0,353.5 633.0,353.8"/>
<polygon fill="#fec44f" class="cc" points="639.0,352.0 645.0,351.5 645.0,353.0 639.0,353.5"/>
<polygon fill="#fec44f" class="cc" points="647.0,354.0 653.0,352.5 652.0,354.5 647.0,355.5"/>
<polygon fill="#fec44f" class="cc" points="656.0,338.5 660.0,338.8 660.0,340.0 656.0,339.8"/>
<polygon fill="#fec44f" class="cc" points="660.0,339.5 666.0,339.0 666.0,340.5 660.0,341.0"/>
<polygon fill="#fec44f" class="cc" points="660.0,325.0 662.0,326.0 661.5,330.0 660.0,329.0"/>
<polygon fill="#fec44f" class="cc" points="666.7,333.3 673.3,332.5 676.7,336.7 683.3,335.8 690.0,337.5 690.0,354.2 685.0,352.5 681.7,348.3 678.3,343.3 673.3,340.0 670.0,336.7"/>
<polygon class="nd" points="690.0,337.5 696.7,340.0 703.3,346.7 706.7,351.7 711.7,358.3 705.0,357.5 700.0,353.3 693.3,354.2 690.0,354.2"/>
<polygon class="nd" points="712.0,342.0 718.0,340.0 719.0,342.0 713.0,344.0"/>
<polygon class="nd" points="720.0,344.0 726.0,349.0 725.0,350.0 719.0,346.0"/>
<polygon class="nd" points="730.0,352.0 735.0,356.0 734.0,357.0 729.0,353.0"/>
<polygon class="nd" points="740.0,368.0 742.0,370.0 741.5,374.0 739.5,371.0"/>
<polygon class="nd" points="737.0,382.0 741.0,386.0 740.0,388.0 736.0,384.0"/>
<polygon class="nd" points="770.0,374.0 773.0,372.8 775.0,373.5 772.0,375.5"/>
<polygon class="nd" points="775.5,376.0 777.5,375.5 777.0,377.5 775.5,377.5"/>
<polygon class="nd" points="501.5,459.5 503.8,459.3 503.5,461.0 501.8,461.0"/>
<polygon fill="#fee391" class="cc" points="622.6,388.9 632.0,385.2 643.3,375.8 647.1,373.9 656.5,368.2 662.1,369.2 664.0,363.5 669.6,360.7 675.3,362.6 679.1,362.6 676.2,370.1 682.8,375.8 686.6,375.8 689.4,370.1 692.2,359.8 694.1,362.6 696.0,370.1 697.9,379.5 701.6,385.2 705.4,390.8 708.2,398.4 707.3,405.9 703.5,413.4 697.9,420.9 692.2,428.5 686.6,432.2 679.1,432.2 671.5,428.5 667.8,424.7 666.8,419.1 664.0,419.1 662.1,422.8 658.4,415.3 652.7,413.4 643.3,415.3 633.9,417.2 624.5,420.0 618.8,421.9 616.9,419.1 619.8,411.5 618.8,402.1 619.8,396.5 621.6,390.8"/>
<polygon fill="#fee391" class="cc" points="671.5,438.8 679.1,437.9 675.3,443.5 671.5,444.5"/>
<polygon fill="#fee391" class="cc" points="742.4,421.8 744.1,422.9 744.7,427.6 749.4,430.0 745.9,433.5 741.2,435.9 735.9,440.0 735.3,438.2 737.6,434.7 741.2,431.2 742.9,426.5 742.1,422.9"/>
<polygon fill="#fee391" class="cc" points="731.8,437.6 733.5,439.4 727.1,445.3 720.0,448.8 712.9,452.9 708.8,452.4 708.2,451.2 714.1,447.6 722.4,444.1 728.2,440.6"/>
<polygon fill="#fec44f" class="cc" points="5.0,278.0 7.8,279.0 6.8,281.0 5.2,280.8"/>
<polygon fill="#fec44f" class="cc" points="3.5,274.8 5.8,276.0 5.3,276.8 3.3,275.8"/>
<polygon fill="#fec44f" class="cc" points="1.0,272.6 2.3,273.0 2.1,274.3 0.9,273.8"/>
<polyline class="bl" points="125.4,151.5 113.0,162.0 100.9,173.0"/>
<polyline class="bl" points="111.2,201.4 160.0,201.3 169.4,201.3 174.1,204.1 180.7,203.6 185.4,206.5 189.2,209.8 190.6,212.6 188.2,217.3 185.9,220.6 191.1,219.2 195.8,216.4 200.5,214.9 206.1,212.6 212.7,211.6 216.5,208.8 218.4,206.5 222.1,206.9 222.1,210.7 220.2,213.1"/>
<polyline class="bl" points="186.7,330.8 193.3,337.5 200.0,338.3 199.2,333.3 200.0,326.7 205.8,327.5"/>
<polyline class="bl" points="200.0,338.3 193.3,343.3 190.8,350.0 198.3,358.3 203.3,360.0 210.0,356.7 213.3,361.7 221.7,366.7 223.3,371.7 226.7,375.0 228.3,381.7 225.8,382.8"/>
<polyline class="bl" points="203.3,360.0 202.5,368.3 201.7,378.3"/>
<polyline class="bl" points="209.3,390.2 213.0,388.3 220.3,388.3"/>
<polyline class="bl" points="239.5,400.2 235.0,408.5 233.1,411.2 238.6,406.6 245.0,417.6"/>
<polyline class="bl" points="233.1,411.2 234.0,419.5 236.8,423.1"/>
<mask id="nbm" maskUnits="userSpaceOnUse" x="0" y="0" width="850" height="600"><rect width="850" height="600" fill="#fff"/><polygon fill="#000" points="40.5,187.7 50.5,185.1 65.8,178.2 61.2,177.5 57.4,175.9 56.6,172.9 58.9,169.8 64.2,167.5 71.9,166.5 77.0,166.2 79.0,165.2 77.2,164.5 72.0,164.2 67.3,162.9 67.5,160.2 76.5,159.1 79.5,156.1 78.8,154.1 85.7,152.2 97.9,149.5 105.5,148.4 116.2,150.4 125.4,151.5 142.9,151.4 150.0,152.3 155.6,151.8 161.3,153.2 166.0,155.1 173.5,156.1 178.2,155.1 182.9,156.1 187.6,155.1 192.4,155.1 197.1,153.2 199.9,152.3 203.6,148.5 206.5,147.6 207.4,151.4 210.2,153.2 208.4,156.1 209.7,157.8 206.6,162.4 200.5,165.4 194.4,170.0 188.2,174.6 185.2,178.0 186.3,180.4 191.7,182.5 197.1,185.8 200.9,187.9 201.4,193.4 203.6,195.5 206.3,191.2 206.9,186.9 211.2,185.8 215.5,182.5 216.6,178.2 217.7,173.8 218.8,169.5 221.9,167.0 229.5,170.0 235.7,171.5 241.8,174.6 243.3,178.0 244.8,181.4 245.9,185.8 250.0,187.0 251.0,189.1 252.0,194.4 246.7,198.7 240.0,198.0 231.5,199.4 225.9,202.2 221.2,205.1 216.5,207.4 221.2,206.5 222.1,208.8 224.0,208.8 227.8,204.1 230.6,202.2 229.6,206.9 233.4,209.8 237.2,207.4 238.1,208.8 232.5,213.5 225.9,214.9 224.0,215.4 227.8,211.6 224.0,212.1 220.2,213.5 216.5,215.9 213.6,218.2 212.7,220.1 207.1,222.0 203.3,223.9 200.5,227.6 197.6,229.5 196.2,232.4 194.8,237.1 192.9,240.0 188.5,244.0 183.2,249.3 182.1,255.6 181.1,264.1 178.9,263.1 176.8,253.5 175.0,252.0 169.0,251.0 163.0,251.0 157.0,252.0 151.0,253.0 147.0,255.0 143.0,259.0 142.0,262.0 139.0,260.0 136.0,255.0 133.0,252.0 130.0,253.0 128.0,250.0 125.0,247.5 121.0,247.5 112.0,248.0 110.0,246.0 103.0,245.0 98.5,239.8 96.4,229.2 97.4,223.9 102.7,213.3 105.9,204.8 111.2,201.6 108.0,199.0 106.0,196.0 108.0,188.0 110.0,184.0 108.0,179.0 104.0,175.0 101.0,173.5 92.0,172.9 85.7,172.1 78.0,175.9 65.8,180.1 50.5,186.5 41.0,188.8"/><polygon fill="#000" points="214.2,146.3 221.9,144.0 231.1,144.8 238.7,144.8 244.8,148.6 247.9,151.6 254.0,158.5 247.9,160.8 244.8,163.9 240.2,168.5 235.7,167.0 228.0,163.9 223.4,163.1 226.5,160.8 232.6,159.3 235.7,156.2 229.5,155.5 223.4,154.7 218.8,152.4 215.0,150.1"/><polygon fill="#000" points="223.4,130.2 234.1,128.0 247.9,126.4 260.1,125.6 275.4,126.4 269.3,127.9 257.1,130.2 249.4,134.8 241.8,137.1 235.7,137.9 229.5,136.4 223.4,134.8"/><polygon fill="#000" points="206.5,132.5 212.1,132.5 215.9,134.4 217.8,137.2 221.5,138.2 227.2,138.6 230.0,139.1 235.7,139.4 235.7,140.9 230.0,141.5 221.5,141.0 217.8,140.1 215.9,137.2 209.3,135.4"/><polygon fill="#000" points="156.6,147.1 164.1,142.4 173.5,142.4 176.4,143.8 168.8,145.7 166.9,148.5 159.4,149.0"/><polygon fill="#000" points="166.0,147.6 173.5,146.2 181.1,145.7 189.5,144.3 193.3,143.8 191.4,147.6 190.5,151.4 187.6,153.2 182.0,153.2 176.4,154.2 168.8,153.2 166.9,150.4"/><polygon fill="#000" points="173.1,138.2 180.1,136.3 186.7,135.4 184.8,137.2 178.2,139.1 173.5,139.1"/><polygon fill="#000" points="181.1,140.1 189.5,139.1 194.2,137.2 198.0,139.1 195.2,141.0 187.6,141.5 182.9,141.5"/><polygon fill="#000" points="191.4,134.9 198.9,133.5 197.1,134.9 193.0,135.6"/><polygon fill="#000" points="197.1,145.2 202.7,143.4 206.5,143.8 203.6,148.1 198.9,147.6"/><polygon fill="#000" points="203.6,138.6 210.2,137.2 211.2,139.1 206.5,140.5"/><polygon fill="#000" points="206.6,162.4 212.0,161.0 217.3,163.0 216.0,167.5 210.0,168.0 207.0,166.0"/><polygon fill="#000" points="232.5,199.4 236.2,199.8 235.5,201.3 232.5,200.8"/><polygon fill="#000" points="243.0,200.0 250.0,199.0 254.0,204.0 252.0,208.0 246.0,207.0 243.0,204.0"/><polygon fill="#000" points="44.4,162.2 57.4,154.1 64.2,159.1 55.1,164.5"/><polygon fill="#000" points="52.0,173.4 55.0,173.2 55.3,174.5 52.3,174.8"/><polygon fill="#000" points="67.5,180.0 71.0,178.8 73.4,179.5 70.0,182.0"/><polygon fill="#000" points="103.0,245.0 110.0,246.0 112.0,248.0 121.0,247.5 125.0,247.5 128.0,250.0 130.0,253.0 133.0,252.0 136.0,255.0 139.0,260.0 142.0,262.0 141.0,266.0 140.0,272.0 141.0,277.0 144.0,281.0 148.0,282.0 153.0,280.0 155.0,277.0 158.0,275.0 164.0,274.0 163.0,278.0 161.0,282.0 159.0,284.0 158.0,284.0 156.0,283.0 155.0,284.0 151.0,284.0 152.0,286.0 153.0,287.0 151.0,288.0 150.0,291.0 145.0,288.0 139.0,287.0 133.0,284.0 128.0,282.0 123.0,279.0 121.0,277.0 121.0,274.0 118.0,269.0 115.0,264.0 112.0,258.0 111.0,253.0 110.0,248.0 107.0,248.0 107.0,252.0 108.0,257.0 110.0,262.0 112.0,267.0 113.0,270.0 111.0,269.0 108.0,265.0 106.0,260.0 103.0,258.0 104.0,250.0"/><polygon fill="#000" points="151.0,284.0 155.0,284.0 156.0,283.0 158.0,284.0 158.0,289.0 155.0,292.0 152.0,293.0 150.0,291.0 151.0,288.0 153.0,287.0 152.0,286.0"/><polygon fill="#fff" points="157.6,289.4 158.2,288.2 160.0,287.5 166.0,287.8 170.6,289.5 170.6,291.2 160.6,295.3 157.6,294.5 155.3,292.9"/><polygon fill="#000" points="160.6,295.3 170.6,291.2 168.8,298.8 167.6,302.4 164.1,300.6 161.2,297.6"/><polygon fill="#fff" points="164.1,300.6 167.6,302.4 170.0,305.0 173.0,307.0 176.0,305.5 179.0,305.0 181.7,307.5 181.0,309.5 178.0,310.0 176.0,308.5 173.0,310.0 170.0,309.0 167.0,306.0 164.5,303.0"/><polygon fill="#fff" points="168.8,271.8 175.3,269.4 182.4,271.8 189.4,275.3 191.8,277.6 184.7,277.6 178.8,274.1 171.8,272.9"/><polygon fill="#fff" points="194.1,278.8 201.2,278.8 204.1,281.8 197.6,282.9 194.1,281.8"/><polygon fill="#fff" points="182.5,282.0 185.5,282.0 185.5,283.5 182.5,283.3"/><polygon fill="#000" points="208.0,282.2 211.2,282.4 211.2,283.4 208.0,283.3"/><polygon fill="#000" points="181.7,308.3 185.0,303.3 193.3,300.0 195.8,298.3 197.5,300.0 201.7,300.8 210.0,303.3 216.7,302.5 220.0,305.0 222.5,310.0 230.0,315.0 241.7,320.0 245.0,325.0 248.3,330.0 253.3,333.3 260.0,336.7 268.3,338.3 275.0,341.7 280.0,345.0 280.8,351.7 278.3,356.7 275.0,361.7 273.3,368.3 272.0,376.7 271.6,377.3 269.8,386.5 266.1,390.2 258.8,395.6 253.3,399.3 251.5,408.5 245.0,417.6 242.3,422.2 236.8,423.1 238.6,428.6 235.0,432.3 228.6,434.1 225.3,434.3 223.5,439.8 227.1,443.5 224.4,449.0 226.2,456.3 224.4,461.8 225.3,467.4 224.4,470.1 231.7,474.7 234.5,474.7 229.9,476.5 220.7,472.9 213.4,467.4 209.7,461.8 206.9,452.7 205.1,443.5 203.3,425.1 202.3,406.7 203.3,388.4 201.4,378.3 200.0,376.7 193.3,373.3 186.7,366.7 181.7,356.7 176.7,346.7 173.3,341.7 174.2,335.0 175.8,328.3 178.3,325.0 180.0,316.7"/><polygon fill="#000" points="195.8,298.3 197.5,300.0 201.7,300.8 210.0,303.3 216.7,302.5 220.0,305.0 222.4,309.4 220.0,314.1 221.2,317.6 215.3,321.2 212.9,325.9 209.4,328.2 206.5,325.3 205.9,316.5 201.2,314.1 194.1,310.6 193.5,304.7"/><polygon fill="#fff" points="222.4,309.4 230.0,315.0 241.7,320.0 245.0,325.0 241.0,326.0 235.0,324.0 229.0,324.0 224.0,323.0 221.2,317.6 220.0,314.1"/><polygon fill="#000" points="175.0,330.0 179.2,327.5 186.7,330.8 184.2,335.8 180.0,340.0 176.7,342.5 174.2,340.0 174.2,333.3"/><polygon fill="#000" points="201.4,378.3 203.3,378.3 208.8,392.0 206.9,401.2 206.9,415.9 208.8,430.6 209.7,443.5 211.5,450.8 214.3,460.0 218.9,465.5 224.4,470.1 226.2,473.8 231.7,474.7 234.5,474.7 229.9,476.5 220.7,472.9 213.4,467.4 209.7,461.8 206.9,452.7 205.1,443.5 203.3,425.1 202.3,406.7 203.3,388.4"/><polygon fill="#fff" points="220.3,384.7 225.8,382.8 231.3,386.5 233.1,391.1 238.6,394.7 239.5,400.2 235.0,403.0 230.4,401.1 229.5,395.6 224.0,392.0 220.3,388.3"/><polygon fill="#fff" points="371.8,169.8 372.5,167.5 377.0,165.3 382.3,161.5 387.5,157.0 392.0,153.3 397.3,150.6 402.5,149.1 407.8,148.8 411.5,149.9 413.8,151.0 421.9,154.1 431.8,157.6 433.2,159.1 427.5,161.2 424.7,164.0 430.4,164.0 436.0,158.4 437.4,155.5 441.7,156.2 447.3,154.1 452.9,153.4 465.0,152.5 473.3,153.3 478.3,154.2 475.0,147.5 475.8,145.0 480.0,145.8 483.3,150.0 488.3,156.7 490.0,155.0 486.7,149.2 485.0,145.8 491.7,145.8 495.0,143.3 496.7,140.8 503.3,139.2 511.7,138.3 518.3,135.8 523.3,136.7 531.7,137.5 538.3,139.2 540.0,141.7 548.3,143.3 556.7,144.2 565.0,143.3 570.0,145.0 578.3,148.3 591.7,146.7 603.3,146.7 613.3,148.3 628.3,150.0 636.7,151.7 646.7,151.7 651.7,150.8 661.7,152.5 670.0,156.7 678.3,161.7 686.7,167.5 680.0,168.3 676.7,172.5 670.0,174.2 668.3,178.3 675.0,183.3 676.7,190.0 676.7,195.8 670.0,191.7 663.3,185.0 660.8,178.3 662.5,171.7 660.0,169.2 656.7,172.5 651.7,171.7 650.0,176.7 643.3,175.8 630.0,178.3 627.5,186.7 636.7,189.2 643.3,193.3 646.7,200.0 648.3,208.3 647.5,214.2 645.0,216.7 640.8,217.5 639.6,220.0 639.2,224.2 638.3,229.2 642.5,231.7 645.0,234.2 645.8,237.5 643.3,239.2 640.8,239.6 639.2,237.5 638.3,235.0 636.7,232.5 636.7,230.8 634.2,230.0 632.5,227.5 631.7,225.0 630.8,221.5 626.7,223.3 622.5,222.5 618.3,225.0 616.7,228.3 620.0,230.0 625.0,230.8 628.3,232.5 625.0,235.0 624.2,238.3 626.7,241.7 630.0,245.0 632.5,248.3 634.8,250.9 632.9,258.5 630.0,267.0 625.0,270.0 620.0,272.0 615.0,274.0 612.0,275.0 609.0,274.5 607.0,276.0 604.0,278.0 603.0,281.0 606.0,284.0 610.0,288.0 613.0,291.0 615.0,295.0 614.0,300.0 611.0,303.0 608.0,305.0 606.0,307.0 605.0,304.0 606.0,302.0 609.0,301.0 605.0,300.0 602.0,298.0 599.0,297.0 596.0,295.0 593.0,295.0 591.0,296.0 590.0,300.0 591.0,305.0 594.0,309.0 597.0,313.0 600.0,315.5 602.5,320.0 605.0,326.7 603.3,327.5 600.0,323.3 596.7,319.2 595.0,315.0 592.0,311.0 590.0,306.0 589.0,301.0 588.0,297.0 586.0,293.0 584.0,289.0 580.0,287.0 579.0,283.0 576.0,279.0 574.0,275.0 573.3,271.7 571.7,270.0 568.3,272.5 565.0,270.0 563.3,273.3 560.0,278.3 553.3,285.0 548.3,293.3 546.7,303.3 543.3,309.2 541.7,306.7 536.7,295.0 531.7,285.0 528.3,275.0 520.0,271.7 523.3,265.8 516.7,266.7 511.7,264.2 504.0,264.0 498.0,262.7 491.3,261.3 486.0,260.0 480.7,258.7 475.3,256.0 470.0,253.3 470.0,254.7 474.0,258.7 479.3,264.0 483.3,269.3 487.3,264.0 490.0,261.3 492.7,265.3 496.7,270.7 498.0,272.0 494.0,278.7 488.7,284.0 483.3,286.7 475.3,289.3 468.7,292.0 463.3,294.7 462.5,296.3 461.4,294.2 460.3,289.8 458.2,285.5 454.9,280.1 451.7,272.5 448.4,266.0 444.1,258.4 440.8,254.1 441.2,250.0 441.5,246.5 441.0,239.0 442.5,234.0 441.7,233.1 436.0,234.8 431.8,231.7 427.6,234.8 424.7,233.1 420.5,228.9 419.1,223.2 418.1,222.6 414.8,224.6 413.9,230.5 411.8,234.8 409.2,231.7 407.8,227.5 406.4,223.2 404.5,222.8 402.3,219.8 400.0,217.5 396.3,214.5 392.5,210.8 389.5,207.8 388.0,209.0 389.5,213.0 391.8,216.0 394.8,219.0 397.8,221.3 400.0,223.5 401.5,225.0 400.0,226.5 397.5,227.0 396.3,228.5 394.8,225.0 391.0,221.3 389.2,221.7 385.0,216.7 381.7,213.3 378.3,212.5 377.5,214.2 374.2,216.7 370.8,217.5 368.3,218.3 365.8,221.7 363.3,225.0 362.5,228.3 360.0,231.7 355.8,234.2 351.7,235.0 347.5,234.2 345.0,232.5 342.5,229.2 341.7,225.0 342.9,221.7 342.1,217.5 347.5,215.8 353.3,215.8 359.2,216.7 360.0,210.8 359.2,206.7 353.3,204.2 355.0,201.7 359.2,200.8 363.3,199.2 366.7,196.7 369.5,196.5 371.8,195.8 370.4,193.6 373.9,190.8 375.3,189.4 378.5,188.5 381.5,188.3 385.2,188.7 389.4,190.1 395.0,188.5 400.7,186.6 402.5,184.0 403.0,181.0 408.0,180.3 413.0,180.3 416.8,176.0 413.0,174.3 408.5,174.3 405.5,173.5 402.5,170.5 401.8,167.5 403.3,164.5 404.0,162.6 402.5,161.5 400.3,162.3 398.0,163.8 395.0,167.5 394.3,170.5 395.8,172.8 395.0,175.0 392.8,179.5 389.8,181.0 387.5,184.8 385.3,185.5 383.5,183.5 382.5,180.5 379.3,179.5 375.5,178.0 372.5,175.0"/><polygon fill="#fff" points="422.4,215.7 422.9,212.5 424.5,209.9 428.0,210.5 430.8,211.0 432.9,212.5 437.2,212.5 443.5,214.6 448.8,216.8 454.1,219.4 449.0,220.0 439.3,219.9 428.7,220.0 422.4,219.9"/><polygon fill="#fff" points="461.6,211.5 465.0,209.0 470.7,207.8 472.4,209.8 469.1,212.3 468.2,214.8 471.5,218.1 476.5,220.5 478.9,222.2 478.1,226.3 477.3,229.6 475.7,232.9 471.5,232.1 468.2,228.8 465.8,225.5 463.3,221.4 460.8,214.8"/><polygon fill="#fff" points="378.5,182.0 381.0,181.5 382.5,183.5 382.0,186.5 381.5,188.3 378.8,188.3 378.5,185.0"/><polygon fill="#000" points="413.8,151.0 421.9,154.1 431.8,157.6 433.2,159.1 427.5,161.2 424.7,164.0 430.4,164.0 436.0,158.4 437.4,155.5 441.7,156.2 447.3,154.1 452.9,153.4 465.0,152.5 473.3,153.3 478.3,154.2 475.0,147.5 475.8,145.0 480.0,145.8 483.3,150.0 488.3,156.7 490.0,155.0 486.7,149.2 485.0,145.8 491.7,145.8 495.0,143.3 496.7,140.8 503.3,139.2 511.7,138.3 518.3,135.8 523.3,136.7 531.7,137.5 538.3,139.2 540.0,141.7 548.3,143.3 556.7,144.2 565.0,143.3 570.0,145.0 578.3,148.3 591.7,146.7 603.3,146.7 613.3,148.3 628.3,150.0 636.7,151.7 646.7,151.7 651.7,150.8 661.7,152.5 670.0,156.7 678.3,161.7 686.7,167.5 680.0,168.3 676.7,172.5 670.0,174.2 668.3,178.3 675.0,183.3 676.7,190.0 676.7,195.8 670.0,191.7 663.3,185.0 660.8,178.3 662.5,171.7 660.0,169.2 656.7,172.5 651.7,171.7 650.0,176.7 643.3,175.8 630.0,178.3 627.5,186.7 636.7,189.2 643.3,193.3 646.7,200.0 648.3,208.3 647.5,214.2 645.0,216.7 640.8,217.5 638.3,216.7 637.5,212.5 639.2,208.3 637.5,203.3 631.7,204.2 626.7,201.7 622.5,200.0 621.6,196.4 612.2,191.6 604.7,191.6 601.9,194.5 600.9,200.1 595.3,198.2 587.8,199.2 576.5,199.2 567.1,198.2 559.5,195.4 548.2,198.2 541.6,202.0 540.1,202.9 537.0,200.6 529.0,197.0 522.0,193.8 516.0,191.5 510.0,189.2 497.0,186.4 488.1,189.2 483.4,190.3 484.0,195.0 473.0,196.4 461.7,195.0 457.5,198.4 458.3,204.5 460.6,207.5 461.6,211.5 460.8,214.8 462.3,218.5 462.6,218.9 458.0,219.5 454.1,219.4 448.8,216.8 443.5,214.6 440.0,212.8 437.5,211.8 438.0,211.0 441.0,210.5 441.5,207.8 441.5,207.5 443.5,205.1 443.5,200.9 439.3,198.8 435.1,196.6 430.8,194.0 426.6,193.5 423.3,193.6 420.5,188.0 414.8,185.2 413.5,181.0 416.8,176.0 415.3,173.5 417.5,169.0 416.8,164.5 414.5,160.0 413.0,155.5 411.1,153.3 413.8,151.0"/><polygon fill="#000" points="446.7,148.3 450.0,141.7 456.7,138.3 466.7,136.7 467.5,138.0 458.3,140.0 453.3,144.2 456.7,149.2 450.0,150.0"/><polygon fill="#000" points="493.3,130.0 508.3,131.7 506.7,133.3 495.0,131.7"/><polygon fill="#000" points="511.5,132.0 518.0,133.0 517.0,134.5 511.5,133.5"/><polygon fill="#000" points="575.0,138.3 586.0,139.0 586.0,140.5 575.0,140.0"/><polygon fill="#000" points="590.0,139.5 598.3,140.5 598.0,141.7 590.0,141.0"/><polygon fill="#000" points="641.7,188.3 650.0,196.7 656.7,201.7 660.0,208.3 657.5,208.3 651.7,201.7 645.0,193.3"/><polygon fill="#000" points="460.6,207.5 458.3,204.5 457.5,198.4 461.7,195.0 473.0,196.4 484.0,195.0 483.4,190.3 488.1,189.2 497.0,186.4 510.0,189.2 516.0,191.5 522.0,193.8 529.0,197.0 537.0,200.6 540.1,202.9 535.5,207.5 531.0,212.1 530.0,217.2 525.9,216.8 522.6,217.2 519.3,218.1 516.0,218.9 512.7,220.5 509.4,222.2 506.1,221.4 503.7,218.9 499.5,216.4 493.0,215.6 487.2,213.1 483.9,211.5 479.8,212.3 480.6,219.7 478.9,222.2 476.5,220.5 471.5,218.1 468.2,214.8 469.1,212.3 472.4,209.8 470.7,207.8 465.0,209.0 462.0,208.5"/><polygon fill="#000" points="512.7,220.5 516.0,218.9 522.6,217.2 530.0,217.2 530.5,222.2 522.6,223.0 517.7,223.8 514.4,223.0 511.9,222.2"/><polygon fill="#000" points="508.6,226.3 511.1,223.8 513.5,223.8 516.0,226.3 519.3,228.0 523.4,229.6 525.1,231.2 522.6,232.9 517.7,232.1 514.4,231.2 511.9,232.9 510.2,231.2 509.4,228.8"/><polygon fill="#000" points="541.6,202.0 548.2,198.2 559.5,195.4 567.1,198.2 576.5,199.2 587.8,199.2 595.3,198.2 600.9,200.1 599.1,204.8 608.5,206.7 602.8,208.6 597.2,212.4 595.3,217.1 585.9,219.9 576.5,218.0 567.1,217.1 559.5,215.2 552.0,210.5 546.4,205.8"/><polygon fill="#000" points="540.1,202.9 541.6,202.0 546.4,205.8 552.0,210.5 559.5,215.2 567.1,217.1 576.5,218.0 585.9,219.9 595.3,217.1 597.2,212.4 602.8,208.6 608.5,206.7 599.1,204.8 600.9,200.1 601.9,194.5 604.7,191.6 612.2,191.6 621.6,196.4 622.5,200.0 626.7,201.7 631.7,204.2 637.5,203.3 639.2,208.3 637.5,212.5 638.3,216.7 640.0,218.0 636.0,220.5 631.5,222.0 630.8,221.5 626.7,223.3 622.5,222.5 618.3,225.0 616.7,228.3 620.0,230.0 625.0,230.8 628.3,232.5 625.0,235.0 624.2,238.3 626.7,241.7 630.0,245.0 632.5,248.3 634.8,250.9 632.9,258.5 630.0,267.0 625.0,270.0 620.0,272.0 615.0,274.0 612.0,275.0 609.0,274.5 606.0,273.0 603.0,271.0 600.0,270.0 596.0,272.0 593.0,275.0 591.0,273.0 586.0,269.0 584.0,263.0 583.0,257.0 580.0,257.0 576.5,255.6 568.9,256.6 561.4,256.6 552.0,254.7 542.6,250.9 537.0,243.0 533.0,239.0 529.4,236.0 524.8,232.0 525.1,231.2 526.0,223.5 530.5,222.2 530.0,217.2 531.0,212.1 535.5,207.5"/><polygon fill="#000" points="612.0,276.5 615.5,276.5 616.0,280.0 614.0,282.0 612.0,280.0"/><polygon fill="#000" points="636.0,264.0 638.6,265.0 637.5,271.6 634.8,269.0"/><polygon fill="#000" points="636.7,230.8 639.2,229.6 642.5,231.7 645.0,234.2 645.8,237.5 643.3,239.2 640.8,239.6 639.2,237.5 638.3,235.0 636.7,232.5"/><polygon fill="#000" points="662.5,221.7 665.0,222.5 667.5,226.7 669.2,231.7 670.0,236.0 667.5,239.2 661.7,240.8 658.3,242.5 654.2,243.3 651.0,242.0 649.2,241.7 651.7,238.3 656.7,236.7 660.0,233.3 661.7,227.5"/><polygon fill="#000" points="658.3,211.7 661.7,213.3 666.7,215.0 669.2,215.8 666.7,219.2 663.3,220.0 660.8,220.0 659.2,216.7"/><polygon fill="#000" points="649.2,243.0 653.0,243.5 654.2,246.0 651.5,248.3 649.5,247.0"/><polygon fill="#000" points="408.6,199.8 410.7,195.6 417.1,194.5 422.4,195.1 426.6,193.5 430.8,194.0 435.1,196.6 439.3,198.8 443.5,200.9 443.5,205.1 441.5,207.5 438.0,207.6 435.5,208.0 434.5,209.5 436.5,210.5 437.5,211.5 435.0,212.5 433.0,213.0 431.5,211.5 430.8,210.4 429.8,208.3 426.6,207.8 424.5,209.4 422.4,209.9 420.2,206.2 418.1,204.1 414.9,204.1 410.7,204.1 408.1,203.5"/><polygon fill="#fff" points="435.5,208.0 438.0,207.6 441.5,207.8 441.0,210.5 438.0,211.0 436.5,210.5 434.5,209.5"/><polygon fill="#000" points="375.3,189.4 379.5,188.0 382.4,187.3 385.2,188.7 389.4,190.1 390.1,193.6 388.7,196.5 388.0,199.3 389.4,202.8 386.6,204.9 382.4,205.2 378.1,204.9 376.0,202.1 375.3,196.5 373.9,193.6"/><polygon fill="#000" points="370.4,193.6 373.9,190.8 376.0,191.5 375.3,195.8 371.8,195.8"/><polygon fill="#000" points="387.4,198.8 390.6,197.2 393.8,197.2 396.9,198.8 400.1,200.4 396.9,201.9 392.7,202.5 389.5,201.4"/><polygon fill="#000" points="396.9,201.9 400.1,200.4 404.4,200.9 408.1,201.4 406.5,203.5 402.2,204.1 398.5,204.6"/><polygon fill="#000" points="400.7,186.6 404.2,185.8 405.5,187.8 401.0,188.3"/><polygon fill="#000" points="406.5,205.6 410.7,204.6 414.9,204.6 418.1,204.6 420.8,207.2 421.8,211.5 422.4,214.1 419.2,214.6 413.9,215.7 409.6,214.6 407.5,212.0 405.9,208.8"/><polygon fill="#000" points="402.0,210.0 406.0,209.0 409.0,212.0 410.0,216.0 408.0,219.0 405.0,218.0 403.0,215.0 401.6,212.0"/><polygon fill="#000" points="406.5,223.1 411.8,222.1 417.1,221.0 418.1,222.6 413.9,224.2 411.8,227.4 413.9,230.5 411.8,234.8 409.6,231.6 408.1,227.4"/><polygon fill="#000" points="413.4,236.6 419.1,236.8 418.5,238.1 413.8,237.8"/><polygon fill="#000" points="433.5,238.0 437.3,237.6 436.5,239.3 434.0,239.2"/><polygon fill="#000" points="456.2,222.3 459.0,222.1 460.5,225.0 458.5,226.3 456.5,225.0"/><polygon fill="#fff" points="459.0,222.1 462.6,220.5 463.3,221.4 465.8,225.5 464.5,227.5 462.0,228.0 460.5,225.0"/><polygon fill="#000" points="454.0,232.7 459.3,232.0 462.7,237.3 463.3,242.7 467.3,248.0 470.0,252.0 466.0,253.3 462.0,252.0 456.7,249.3 451.3,246.7 448.7,244.0 450.0,241.3 452.7,237.3"/><polygon fill="#000" points="458.0,226.7 461.0,226.0 465.0,228.5 468.2,229.5 471.5,232.1 475.7,232.9 481.4,231.2 487.2,233.7 493.0,234.5 496.2,237.8 497.0,240.0 499.3,246.7 499.3,252.0 502.0,254.7 504.0,260.0 504.0,264.0 498.0,262.7 491.3,261.3 486.0,260.0 480.7,258.7 475.3,256.0 470.0,253.3 467.3,248.0 463.3,242.7 462.7,237.3 460.7,230.7"/><polygon fill="#000" points="441.3,245.0 444.0,244.0 446.5,243.5 448.5,244.5 446.5,248.0 445.0,252.0 442.0,252.5 441.5,249.0"/><polygon fill="#000" points="440.3,239.0 442.5,238.8 442.7,244.0 441.3,245.0 440.2,242.0"/><polygon fill="#000" points="501.7,263.3 511.7,264.2 516.7,266.7 523.3,265.8 520.0,260.0 523.3,256.7 528.3,246.7 532.5,238.1 529.4,236.0 524.8,233.5 521.8,241.2 515.7,244.2 509.5,250.4 501.9,251.9 505.0,258.0 502.7,262.6"/><polygon fill="#000" points="563.3,261.7 570.0,263.3 571.7,270.0 568.3,272.5 565.0,270.0 564.2,265.8"/><polygon fill="#000" points="580.0,257.0 583.0,257.0 584.0,263.0 586.0,269.0 591.0,273.0 593.0,275.0 590.0,278.0 586.0,282.0 586.0,286.0 588.0,290.0 589.0,295.0 589.0,301.0 588.0,297.0 586.0,293.0 584.0,289.0 580.0,287.0 579.0,283.0 576.0,279.0 574.0,275.0 574.0,271.0 575.0,267.0 577.0,263.0 578.0,259.0"/><polygon fill="#fff" points="593.0,275.0 596.0,272.0 597.0,276.0 599.0,279.0 601.0,283.0 604.0,286.0 606.0,289.0 604.0,291.0 601.0,288.0 598.0,285.0 595.0,283.0 594.0,280.0"/><polygon fill="#fff" points="600.0,294.0 604.0,292.0 608.0,291.0 611.0,293.0 612.0,297.0 609.0,301.0 605.0,300.0 602.0,298.0"/><polygon fill="#000" points="586.0,282.0 590.0,278.0 593.0,275.0 594.0,280.0 595.0,283.0 598.0,285.0 601.0,288.0 604.0,291.0 602.0,294.0 600.0,295.0 599.0,297.0 596.0,295.0 593.0,295.0 591.0,296.0 590.0,300.0 591.0,305.0 594.0,309.0 597.0,313.0 600.0,315.5 598.0,315.0 595.0,313.0 592.0,310.0 590.0,306.0 589.0,301.0 589.0,295.0 588.0,290.0 586.0,286.0"/><polygon fill="#000" points="596.0,272.0 600.0,270.0 603.0,271.0 606.0,273.0 609.0,274.5 607.0,276.0 604.0,278.0 603.0,281.0 606.0,284.0 610.0,288.0 613.0,291.0 615.0,295.0 614.0,300.0 611.0,303.0 608.0,305.0 606.0,307.0 605.0,304.0 606.0,302.0 609.0,301.0 612.0,297.0 611.0,293.0 608.0,290.0 604.0,286.0 601.0,283.0 599.0,279.0 597.0,276.0"/><polygon fill="#000" points="595.8,314.2 600.0,315.5 602.5,320.0 605.0,326.7 603.3,327.5 600.0,323.3 596.7,319.2"/><polygon fill="#000" points="352.0,178.1 356.2,178.8 356.9,182.4 355.5,185.2 358.4,188.0 361.2,190.8 364.7,192.9 365.4,195.8 361.2,197.9 356.9,197.9 352.7,198.6 354.1,195.8 355.5,193.6 353.4,191.5 352.7,188.0 352.0,183.8 350.6,180.9"/><polygon fill="#fff" points="343.3,190.0 348.3,186.7 350.8,189.2 350.0,193.3 345.0,195.0"/><polygon fill="#000" points="348.5,186.5 350.5,186.0 350.8,188.3 349.0,188.5"/><polygon fill="#fff" points="320.0,160.0 326.7,158.7 336.7,160.0 335.0,164.2 328.3,165.8 321.7,164.2"/><polygon fill="#fff" points="255.0,133.3 263.3,130.8 276.7,126.7 298.3,125.8 316.7,125.0 331.7,126.7 343.3,128.3 335.0,130.8 331.7,136.7 330.0,141.7 325.0,148.3 318.3,152.5 308.3,156.7 300.0,159.2 291.7,163.3 283.3,168.3 279.2,173.3 273.3,170.0 269.2,161.7 270.8,155.0 271.7,148.3 268.3,140.0 260.0,136.7"/><polygon fill="#fff" points="377.6,131.5 385.0,129.5 392.0,130.0 401.6,130.5 397.0,134.0 390.0,136.0 383.0,137.0 379.0,134.0"/><polygon fill="#000" points="426.4,129.2 431.0,128.8 436.2,129.3 432.0,130.6 428.0,130.4"/><polygon fill="#fff" points="547.5,305.0 550.5,306.0 552.5,311.0 550.0,314.2 547.0,311.0"/><polygon fill="#fff" points="333.7,257.7 337.0,255.7 339.7,253.7 341.0,251.7 340.7,248.3 341.7,245.0 343.7,243.0 346.3,241.0 348.3,239.0 349.7,236.3 351.7,237.3 354.3,237.7 357.7,238.3 364.0,236.0 372.0,235.5 380.9,233.1 385.2,233.1 385.2,238.8 386.6,243.0 389.4,244.4 396.5,247.2 402.1,249.4 407.8,245.8 412.0,247.0 417.7,247.2 427.5,248.6 436.0,246.8 440.5,247.0 440.0,252.0 438.7,256.2 441.9,260.6 446.2,270.3 447.3,274.7 449.0,280.1 450.6,285.5 453.8,289.8 458.2,294.2 460.3,297.4 464.0,298.0 468.0,298.5 472.0,298.8 476.0,298.5 480.2,299.8 474.3,312.7 465.0,324.3 458.0,336.0 454.5,343.0 455.7,350.0 455.7,359.3 452.2,366.3 454.7,372.4 447.6,377.1 441.8,380.6 442.9,385.3 443.5,391.2 440.6,397.1 435.9,399.4 434.7,404.1 431.2,410.0 425.3,415.9 419.4,419.4 412.4,420.6 405.3,422.4 402.9,420.6 402.4,414.7 400.6,407.6 398.2,400.6 394.7,390.0 391.2,381.8 389.4,375.9 390.3,370.0 391.5,366.3 392.7,357.0 390.3,347.7 388.0,338.3 385.7,329.0 383.3,322.0 380.0,318.0 374.0,319.0 366.0,317.0 354.0,318.0 346.0,318.0 342.0,314.0 336.0,306.0 328.0,298.0 323.0,292.0 323.0,286.0 324.0,274.0 328.0,264.0 331.0,260.0"/><polygon fill="#fff" points="389.5,230.0 394.8,229.5 394.0,232.5 390.0,232.0"/><polygon fill="#fff" points="380.5,217.0 382.5,216.8 382.8,221.5 381.0,221.5"/><polygon fill="#fff" points="380.8,222.5 383.0,222.5 383.0,227.5 381.0,227.5"/><polygon fill="#fff" points="477.8,362.8 475.5,373.3 472.0,385.0 467.3,396.7 462.7,396.7 461.5,387.3 463.8,378.0 469.7,371.0 474.3,366.3"/><polygon fill="#000" points="349.7,236.3 351.7,237.3 354.3,237.7 357.7,238.3 358.7,241.0 359.3,244.7 356.3,245.7 354.3,247.7 352.3,249.7 349.7,251.7 346.3,253.0 343.7,254.3 342.7,258.0 338.3,257.7 333.7,257.7 337.0,255.7 339.7,253.7 341.0,251.7 340.7,248.3 341.7,245.0 343.7,243.0 346.3,241.0 348.3,239.0"/><polygon fill="#000" points="380.9,233.1 385.2,233.1 385.2,238.8 386.6,243.0 383.8,248.6 380.9,243.0 380.2,237.4"/><polygon fill="#000" points="384.0,244.5 388.0,245.0 394.0,246.0 400.0,247.5 406.0,249.0 412.0,247.0 418.0,248.0 418.0,278.0 414.0,277.0 396.0,270.0 386.0,269.0 384.0,260.0 385.0,252.0"/><polygon fill="#000" points="418.0,248.0 428.0,248.0 436.0,246.8 440.5,247.0 440.0,252.0 438.7,256.2 441.9,260.6 444.0,266.0 446.2,272.0 420.0,272.0 418.0,272.0"/><polygon fill="#000" points="370.0,298.0 378.0,295.0 388.0,297.0 395.0,298.0 394.0,304.0 388.0,310.0 384.0,317.0 380.0,318.0 374.0,319.0 370.0,316.0 369.0,308.0"/><polygon fill="#000" points="444.0,298.0 450.0,293.0 458.0,294.0 460.0,300.0 464.0,306.0 472.0,310.0 464.0,318.0 454.0,320.0 448.0,318.0 442.0,314.0 440.0,308.0"/><polygon fill="#000" points="442.0,318.0 448.0,319.0 454.0,320.4 459.0,320.0 458.0,328.0 456.0,336.0 453.0,342.0 448.0,338.0 443.0,332.0 442.0,324.0"/><polygon fill="#000" points="420.6,378.2 428.8,372.4 434.1,372.9 437.6,375.3 437.1,382.9 434.1,388.8 428.8,387.6 425.3,384.1 421.8,380.6"/><polygon fill="#000" points="639.2,282.5 643.3,282.5 644.2,288.3 642.5,291.7 646.7,294.2 648.3,298.3 645.0,296.7 641.7,295.0 640.0,291.7 638.3,286.7"/><polygon fill="#000" points="646.7,300.0 652.5,301.7 653.3,305.8 648.3,305.8 645.8,303.3"/><polygon fill="#000" points="646.7,310.0 651.7,305.8 655.0,306.7 656.7,313.3 653.3,315.0 650.0,311.7"/><polygon fill="#000" points="635.0,307.5 639.2,301.7 639.8,302.5 636.0,308.0"/><polygon fill="#000" points="639.5,293.5 641.5,294.0 641.2,297.0 639.3,296.2"/><polygon fill="#000" points="641.7,295.5 646.7,296.5 645.5,298.3 642.0,297.5"/><polygon fill="#000" points="645.8,298.8 649.5,299.5 650.0,303.0 647.0,303.3"/><polygon fill="#000" points="617.5,327.5 623.3,327.5 628.3,326.7 631.7,325.0 635.0,320.0 638.3,327.5 636.7,331.7 633.3,340.0 626.7,340.0 621.7,336.7 618.3,333.3"/><polygon fill="#000" points="618.3,325.8 623.3,323.3 630.0,320.0 633.3,314.2 636.7,315.8 639.2,318.3 635.0,320.0 631.7,325.0 628.3,326.7 623.3,327.5 619.2,328.3"/><polygon fill="#000" points="640.0,328.3 646.7,326.7 653.3,327.5 648.3,331.7 645.0,335.0 648.3,340.0 646.7,345.0 643.3,340.0 641.7,345.0 640.0,336.7"/><polygon fill="#000" points="585.0,317.5 590.0,318.3 596.7,325.0 603.3,333.3 608.3,340.0 609.2,345.8 605.0,345.0 600.0,340.0 593.3,331.7 588.3,323.3"/><polygon fill="#000" points="608.3,346.7 616.7,348.3 625.0,350.8 630.0,352.5 623.3,353.3 615.0,351.7 609.2,349.2"/><polygon fill="#000" points="633.0,352.5 637.0,352.0 637.0,353.5 633.0,353.8"/><polygon fill="#000" points="639.0,352.0 645.0,351.5 645.0,353.0 639.0,353.5"/><polygon fill="#000" points="647.0,354.0 653.0,352.5 652.0,354.5 647.0,355.5"/><polygon fill="#000" points="656.0,338.5 660.0,338.8 660.0,340.0 656.0,339.8"/><polygon fill="#000" points="660.0,339.5 666.0,339.0 666.0,340.5 660.0,341.0"/><polygon fill="#000" points="660.0,325.0 662.0,326.0 661.5,330.0 660.0,329.0"/><polygon fill="#000" points="666.7,333.3 673.3,332.5 676.7,336.7 683.3,335.8 690.0,337.5 690.0,354.2 685.0,352.5 681.7,348.3 678.3,343.3 673.3,340.0 670.0,336.7"/><polygon fill="#fff" points="690.0,337.5 696.7,340.0 703.3,346.7 706.7,351.7 711.7,358.3 705.0,357.5 700.0,353.3 693.3,354.2 690.0,354.2"/><polygon fill="#fff" points="712.0,342.0 718.0,340.0 719.0,342.0 713.0,344.0"/><polygon fill="#fff" points="720.0,344.0 726.0,349.0 725.0,350.0 719.0,346.0"/><polygon fill="#fff" points="730.0,352.0 735.0,356.0 734.0,357.0 729.0,353.0"/><polygon fill="#fff" points="740.0,368.0 742.0,370.0 741.5,374.0 739.5,371.0"/><polygon fill="#fff" points="737.0,382.0 741.0,386.0 740.0,388.0 736.0,384.0"/><polygon fill="#fff" points="770.0,374.0 773.0,372.8 775.0,373.5 772.0,375.5"/><polygon fill="#fff" points="775.5,376.0 777.5,375.5 777.0,377.5 775.5,377.5"/><polygon fill="#fff" points="501.5,459.5 503.8,459.3 503.5,461.0 501.8,461.0"/><polygon fill="#000" points="622.6,388.9 632.0,385.2 643.3,375.8 647.1,373.9 656.5,368.2 662.1,369.2 664.0,363.5 669.6,360.7 675.3,362.6 679.1,362.6 676.2,370.1 682.8,375.8 686.6,375.8 689.4,370.1 692.2,359.8 694.1,362.6 696.0,370.1 697.9,379.5 701.6,385.2 705.4,390.8 708.2,398.4 707.3,405.9 703.5,413.4 697.9,420.9 692.2,428.5 686.6,432.2 679.1,432.2 671.5,428.5 667.8,424.7 666.8,419.1 664.0,419.1 662.1,422.8 658.4,415.3 652.7,413.4 643.3,415.3 633.9,417.2 624.5,420.0 618.8,421.9 616.9,419.1 619.8,411.5 618.8,402.1 619.8,396.5 621.6,390.8"/><polygon fill="#000" points="671.5,438.8 679.1,437.9 675.3,443.5 671.5,444.5"/><polygon fill="#000" points="742.4,421.8 744.1,422.9 744.7,427.6 749.4,430.0 745.9,433.5 741.2,435.9 735.9,440.0 735.3,438.2 737.6,434.7 741.2,431.2 742.9,426.5 742.1,422.9"/><polygon fill="#000" points="731.8,437.6 733.5,439.4 727.1,445.3 720.0,448.8 712.9,452.9 708.8,452.4 708.2,451.2 714.1,447.6 722.4,444.1 728.2,440.6"/><polygon fill="#000" points="5.0,278.0 7.8,279.0 6.8,281.0 5.2,280.8"/><polygon fill="#000" points="3.5,274.8 5.8,276.0 5.3,276.8 3.3,275.8"/><polygon fill="#000" points="1.0,272.6 2.3,273.0 2.1,274.3 0.9,273.8"/></mask>
<g mask="url(#nbm)">
<polyline class="nb" points="334.0,257.8 334.7,263.3 333.3,268.7 332.0,273.3 324.0,274.0"/>
<polyline class="nb" points="344.0,258.0 358.5,268.0 370.7,280.7 384.0,272.7 394.7,267.3 398.0,268.5"/>
<polyline class="nb" points="341.3,262.7 348.0,264.7 348.5,277.0 349.3,290.0 337.3,290.0"/>
<polyline class="nb" points="349.3,290.0 352.0,290.0 364.0,292.7 372.0,288.7 370.7,280.7"/>
<polyline class="nb" points="384.0,272.7 386.0,269.0 385.0,252.0"/>
<polyline class="nb" points="398.0,272.0 396.5,290.0 395.0,296.0"/>
<polyline class="nb" points="372.0,288.7 380.0,293.0 388.0,294.0 395.0,296.0"/>
<polyline class="nb" points="337.3,290.0 330.0,292.0 326.0,292.5"/>
<polyline class="nb" points="343.0,300.0 340.0,296.0 336.0,296.0"/>
<polyline class="nb" points="352.0,290.0 350.0,300.0 348.0,309.0 346.0,316.0"/>
<polyline class="nb" points="352.0,299.0 356.0,301.0 364.0,300.0 370.0,300.0 370.0,298.0"/>
<polyline class="nb" points="356.0,301.0 356.0,316.0"/>
<polyline class="nb" points="364.0,300.0 364.0,317.5"/>
<polyline class="nb" points="418.0,272.0 417.5,278.0 416.0,290.0 414.5,299.0 419.0,305.0"/>
<polyline class="nb" points="419.0,305.0 425.0,303.5 437.0,299.0 443.0,297.5"/>
<polyline class="nb" points="446.0,284.5 444.5,293.0 443.0,297.5"/>
<polyline class="nb" points="395.0,305.0 396.5,305.0 407.0,309.5 419.0,305.0"/>
<polyline class="nb" points="384.5,305.0 395.0,305.0 398.0,320.0 389.0,323.0"/>
<polyline class="nb" points="398.0,320.0 410.0,317.0 425.0,315.5 432.5,320.0 440.0,318.5 442.0,318.0"/>
<polyline class="nb" points="383.0,327.5 392.0,329.0 395.0,338.0"/>
<polyline class="nb" points="398.0,320.0 395.0,335.0 392.0,344.0"/>
<polyline class="nb" points="432.5,320.0 432.5,333.8 432.5,344.0 430.0,353.8"/>
<polyline class="nb" points="432.5,333.8 441.3,335.0 443.0,332.0"/>
<polyline class="nb" points="441.3,335.0 452.5,342.5"/>
<polyline class="nb" points="391.3,345.0 400.0,346.3 408.8,350.0 413.8,352.5 413.8,358.8 421.3,360.0 430.0,363.8 438.8,366.3"/>
<polyline class="nb" points="413.8,358.8 413.1,370.0 420.0,377.5"/>
<polyline class="nb" points="390.0,375.6 405.0,378.0 420.0,377.5 427.5,373.8 436.3,372.5"/>
<polyline class="nb" points="442.5,360.0 455.0,357.5"/>
<polyline class="nb" points="438.8,366.3 441.0,372.0 437.6,375.3"/>
<polyline class="nb" points="410.0,377.5 410.0,395.0 407.6,400.6 399.4,405.3"/>
<polyline class="nb" points="407.6,400.6 417.0,397.0 423.0,392.4 428.8,387.6"/>
<polyline class="nb" points="434.1,388.8 434.7,399.4"/>
<polyline class="nb" points="464.0,292.0 462.0,300.0 458.0,308.0 464.0,317.0 472.0,310.0"/>
<polyline class="nb" points="371.8,195.8 373.5,198.0 375.3,200.6 376.0,202.1"/>
<polyline class="nb" points="376.0,202.1 377.5,206.0 376.7,208.0 378.3,211.7 377.8,213.5"/>
<polyline class="nb" points="359.2,216.7 364.0,217.8 368.3,218.3"/>
<polyline class="nb" points="345.0,216.5 345.5,224.0 345.0,232.5"/>
<polyline class="nb" points="377.5,206.0 382.0,206.5 386.6,204.9 389.4,205.0 392.7,202.5 396.9,201.9 398.5,204.6"/>
<polyline class="nb" points="382.0,206.5 384.0,208.0 389.5,207.8"/>
<polyline class="nb" points="398.5,204.6 402.2,204.1 405.9,208.8 401.7,209.9 396.0,208.0 390.0,207.5"/>
<polyline class="nb" points="389.4,190.1 390.1,193.6 388.7,196.5 388.0,199.3"/>
<polyline class="nb" points="400.7,188.2 403.0,192.0 407.8,193.6 408.6,199.8 408.1,201.4"/>
<polyline class="nb" points="404.2,185.2 408.0,186.0 414.8,185.2"/>
<polyline class="nb" points="404.9,182.0 413.5,183.0"/>
<polyline class="nb" points="404.9,178.5 413.5,179.5"/>
<polyline class="nb" points="410.0,218.9 413.9,215.7 419.2,214.6 422.4,214.1"/>
<polyline class="nb" points="408.0,219.0 406.5,223.1 411.8,222.1 417.1,221.0 419.1,223.0"/>
<polyline class="nb" points="402.0,210.0 398.0,213.0 401.0,218.0 404.5,222.8"/>
<polyline class="nb" points="382.4,161.2 385.0,165.0 386.0,170.0 384.5,177.5 383.0,180.3"/>
<polyline class="nb" points="402.5,149.1 404.0,155.0 404.5,160.5 404.0,162.6"/>
<polyline class="nb" points="421.8,211.5 424.0,209.9"/>
<polyline class="nb" points="420.2,206.2 421.0,203.5 423.5,204.5 424.5,209.4"/>
<polyline class="nb" points="480.6,219.7 487.2,218.9 494.6,222.2 501.2,226.3 507.0,230.4"/>
<polyline class="nb" points="497.0,240.0 502.8,236.2 509.4,232.9 511.9,232.9"/>
<polyline class="nb" points="499.3,246.7 505.0,247.0 509.5,250.4"/>
<polyline class="nb" points="442.5,234.0 447.0,232.5 452.5,233.0 454.0,232.7"/>
<polyline class="nb" points="450.0,241.3 446.5,243.5"/>
<polyline class="nb" points="448.5,244.5 453.0,246.0 456.7,249.3 462.0,252.0 466.0,253.3 469.5,252.5"/>
<polyline class="nb" points="487.0,280.5 484.0,277.0 478.0,278.0 470.0,284.0 463.3,289.0"/>
<polyline class="nb" points="494.0,278.7 490.0,272.0 489.0,266.0"/>
<polyline class="nb" points="455.0,219.5 458.0,219.5 462.6,218.9"/>
<polyline class="nb" points="528.3,246.7 532.0,246.0 537.0,243.0"/>
<polyline class="nb" points="523.3,256.7 528.3,246.7"/>
<polyline class="nb" points="545.0,253.3 552.0,254.7 561.4,256.6"/>
<polyline class="nb" points="545.0,253.3 550.0,256.5 556.7,258.3 562.5,261.7"/>
<polyline class="nb" points="563.3,258.5 569.0,259.0 574.5,259.5"/>
<polyline class="nb" points="538.0,255.0 535.0,250.5"/>
<polyline class="nb" points="160.5,290.0 163.0,290.5 166.0,292.0"/>
<polyline class="nb" points="222.4,309.4 225.0,318.0 228.0,323.0 229.0,324.0"/>
<polyline class="nb" points="233.0,317.0 234.0,324.0"/>
<polyline class="nb" points="172.0,306.0 173.0,310.0"/>
</g>
<!-- legend -->
<g>
<rect x="215.5" y="538.5" width="48" height="10" fill="url(#hatch)" stroke="#bbb" stroke-width="0.7"/>
<line x1="239.5" y1="535" x2="239.5" y2="538.5" stroke="#999" stroke-width="0.7"/>
<rect x="283" y="538.5" width="58.6" height="10" fill="#ffffd4"/>
<rect x="341.6" y="538.5" width="58.6" height="10" fill="#fee391"/>
<rect x="400.2" y="538.5" width="58.6" height="10" fill="#fec44f"/>
<rect x="458.8" y="538.5" width="58.6" height="10" fill="#fe9929"/>
<rect x="517.4" y="538.5" width="58.6" height="10" fill="#d95f0e"/>
<path d="M576,538.5 H630 L634.5,543.5 L630,548.5 H576 Z" fill="#993404"/>
<path d="M283,538.5 H630 L634.5,543.5 L630,548.5 H283 Z" fill="none" stroke="#888" stroke-width="0.5" stroke-opacity="0.6"/>
<g stroke="#888" stroke-width="0.6">
<line x1="283.3" y1="535" x2="283.3" y2="548.5"/><line x1="341.6" y1="535" x2="341.6" y2="548.5"/><line x1="400.2" y1="535" x2="400.2" y2="548.5"/><line x1="458.8" y1="535" x2="458.8" y2="548.5"/><line x1="517.4" y1="535" x2="517.4" y2="548.5"/><line x1="576" y1="535" x2="576" y2="548.5"/>
</g>
</g>
</svg>
<div class="t lg" style="left:216px;top:519px">No data</div>
<div class="t lg" style="left:279.5px;top:519px">0</div>
<div class="t lg" style="left:338px;top:519px">1</div>
<div class="t lg" style="left:390px;top:519px">1.5</div>
<div class="t lg" style="left:455px;top:519px">2</div>
<div class="t lg" style="left:507px;top:519px">2.5</div>
<div class="t lg" style="left:572px;top:519px">3</div>
<div class="t" id="src"><b>Data source:</b> World Values Survey (1981-2022)</div>
<div class="t" id="lic">terrorism | CC BY</div>
</body></html>
